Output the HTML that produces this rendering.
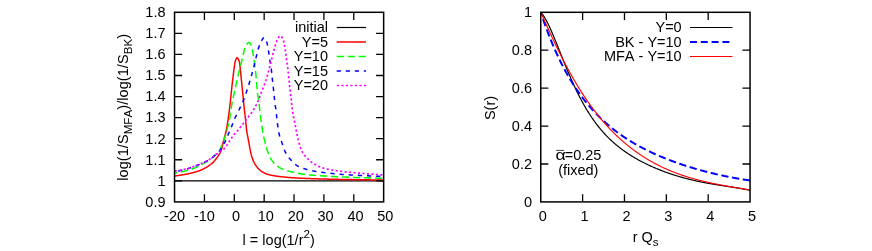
<!DOCTYPE html>
<html><head><meta charset="utf-8"><title>plots</title>
<style>html,body{margin:0;padding:0;background:#fff}svg{display:block;will-change:transform}text{font-family:"Liberation Sans",sans-serif;font-kerning:none;font-size:14.5px;fill:#000}</style></head><body>
<svg width="872" height="251" viewBox="0 0 872 251">
<rect width="872" height="251" fill="#fff"/>
<defs><clipPath id="c1"><rect x="174.55" y="12.3" width="209.1" height="189.6"/></clipPath><clipPath id="c2"><rect x="540.75" y="12.3" width="209.3" height="189.6"/></clipPath></defs>
<g fill="none" stroke-width="1.5" stroke-linejoin="round">
<path d="M174.55,180.833H383.65" stroke="#000" stroke-width="1.2"/>
<g clip-path="url(#c1)">
<path d="M174.50,176.00 L174.75,175.97 L175.00,175.94 L175.25,175.91 L175.50,175.89 L175.75,175.85 L176.00,175.82 L176.25,175.79 L176.50,175.76 L176.75,175.73 L177.00,175.69 L177.25,175.66 L177.50,175.63 L177.75,175.59 L178.00,175.56 L178.25,175.52 L178.50,175.48 L178.75,175.45 L179.00,175.41 L179.25,175.37 L179.50,175.33 L179.75,175.30 L180.00,175.26 L180.25,175.22 L180.50,175.18 L180.75,175.14 L181.00,175.09 L181.25,175.05 L181.50,175.01 L181.75,174.97 L182.00,174.93 L182.25,174.88 L182.50,174.84 L182.75,174.80 L183.00,174.75 L183.25,174.71 L183.50,174.66 L183.75,174.62 L184.00,174.57 L184.25,174.53 L184.50,174.48 L184.75,174.43 L185.00,174.39 L185.25,174.34 L185.50,174.29 L185.75,174.24 L186.00,174.19 L186.25,174.15 L186.50,174.10 L186.75,174.05 L187.00,174.00 L187.25,173.95 L187.50,173.90 L187.75,173.85 L188.00,173.80 L188.25,173.75 L188.50,173.69 L188.75,173.64 L189.00,173.59 L189.25,173.53 L189.50,173.48 L189.75,173.42 L190.00,173.36 L190.25,173.31 L190.50,173.25 L190.75,173.19 L191.00,173.13 L191.25,173.07 L191.50,173.01 L191.75,172.95 L192.00,172.89 L192.25,172.82 L192.50,172.76 L192.75,172.70 L193.00,172.63 L193.25,172.57 L193.50,172.50 L193.75,172.43 L194.00,172.37 L194.25,172.30 L194.50,172.23 L194.75,172.16 L195.00,172.09 L195.25,172.02 L195.50,171.95 L195.75,171.87 L196.00,171.80 L196.25,171.73 L196.50,171.65 L196.75,171.58 L197.00,171.50 L197.25,171.42 L197.50,171.34 L197.75,171.26 L198.00,171.18 L198.25,171.10 L198.50,171.01 L198.75,170.92 L199.00,170.83 L199.25,170.74 L199.50,170.65 L199.75,170.56 L200.00,170.46 L200.25,170.36 L200.50,170.26 L200.75,170.16 L201.00,170.06 L201.25,169.95 L201.50,169.84 L201.75,169.73 L202.00,169.62 L202.25,169.51 L202.50,169.39 L202.75,169.27 L203.00,169.15 L203.25,169.03 L203.50,168.90 L203.75,168.78 L204.00,168.65 L204.25,168.51 L204.50,168.38 L204.75,168.24 L205.00,168.11 L205.25,167.96 L205.50,167.82 L205.75,167.68 L206.00,167.53 L206.25,167.38 L206.50,167.24 L206.75,167.08 L207.00,166.93 L207.25,166.78 L207.50,166.62 L207.75,166.46 L208.00,166.30 L208.25,166.14 L208.50,165.97 L208.75,165.81 L209.00,165.64 L209.25,165.47 L209.50,165.29 L209.75,165.11 L210.00,164.93 L210.25,164.74 L210.50,164.56 L210.75,164.36 L211.00,164.17 L211.25,163.96 L211.50,163.76 L211.75,163.55 L212.00,163.33 L212.25,163.11 L212.50,162.88 L212.75,162.65 L213.00,162.41 L213.25,162.16 L213.50,161.90 L213.75,161.63 L214.00,161.36 L214.25,161.07 L214.50,160.78 L214.75,160.49 L215.00,160.18 L215.25,159.87 L215.50,159.56 L215.75,159.24 L216.00,158.92 L216.25,158.59 L216.50,158.26 L216.75,157.93 L217.00,157.60 L217.25,157.27 L217.50,156.93 L217.75,156.59 L218.00,156.24 L218.25,155.89 L218.50,155.52 L218.75,155.14 L219.00,154.75 L219.25,154.34 L219.50,153.92 L219.75,153.48 L220.00,153.01 L220.25,152.52 L220.50,152.00 L220.75,151.43 L221.00,150.82 L221.25,150.14 L221.50,149.38 L221.75,148.50 L222.00,147.52 L222.25,146.47 L222.50,145.37 L222.75,144.25 L223.00,143.13 L223.25,142.04 L223.50,141.00 L223.75,140.02 L224.00,139.07 L224.25,138.15 L224.50,137.23 L224.75,136.32 L225.00,135.40 L225.25,134.46 L225.50,133.48 L225.75,132.46 L226.00,131.38 L226.25,130.24 L226.50,129.01 L226.75,127.67 L227.00,126.25 L227.25,124.75 L227.50,123.20 L227.75,121.61 L228.00,120.00 L228.25,118.36 L228.50,116.67 L228.75,114.92 L229.00,113.09 L229.25,111.19 L229.50,109.18 L229.75,107.00 L230.00,104.70 L230.25,102.34 L230.50,100.00 L230.75,97.66 L231.00,95.27 L231.25,92.87 L231.50,90.47 L231.75,88.10 L232.00,85.79 L232.25,83.56 L232.50,81.38 L232.75,79.22 L233.00,77.11 L233.25,75.04 L233.50,73.04 L233.75,71.12 L234.00,69.25 L234.25,67.31 L234.50,65.40 L234.75,63.70 L235.00,62.38 L235.25,61.50 L235.50,60.71 L235.75,59.97 L236.00,59.30 L236.25,58.74 L236.50,58.29 L236.75,57.97 L237.00,57.81 L237.25,57.82 L237.50,57.95 L237.75,58.19 L238.00,58.53 L238.25,58.97 L238.50,59.49 L238.75,60.10 L239.00,60.78 L239.25,61.52 L239.50,62.41 L239.75,64.02 L240.00,66.20 L240.25,68.60 L240.50,70.93 L240.75,73.44 L241.00,76.00 L241.25,78.50 L241.50,81.00 L241.75,83.50 L242.00,86.00 L242.25,88.50 L242.50,91.00 L242.75,93.50 L243.00,96.00 L243.25,98.50 L243.50,101.01 L243.75,103.57 L244.00,106.13 L244.25,108.60 L244.50,110.89 L244.75,113.00 L245.00,115.00 L245.25,117.00 L245.50,119.11 L245.75,121.46 L246.00,124.13 L246.25,126.82 L246.50,129.21 L246.75,131.06 L247.00,132.65 L247.25,134.09 L247.50,135.40 L247.75,136.66 L248.00,137.90 L248.25,139.19 L248.50,140.56 L248.75,141.99 L249.00,143.44 L249.25,144.90 L249.50,146.33 L249.75,147.71 L250.00,149.02 L250.25,150.24 L250.50,151.41 L250.75,152.55 L251.00,153.65 L251.25,154.69 L251.50,155.66 L251.75,156.53 L252.00,157.30 L252.25,158.02 L252.50,158.71 L252.75,159.37 L253.00,160.01 L253.25,160.62 L253.50,161.20 L253.75,161.75 L254.00,162.27 L254.25,162.77 L254.50,163.25 L254.75,163.70 L255.00,164.12 L255.25,164.52 L255.50,164.90 L255.75,165.28 L256.00,165.64 L256.25,166.00 L256.50,166.34 L256.75,166.68 L257.00,167.01 L257.25,167.32 L257.50,167.63 L257.75,167.93 L258.00,168.22 L258.25,168.50 L258.50,168.77 L258.75,169.04 L259.00,169.29 L259.25,169.53 L259.50,169.77 L259.75,169.99 L260.00,170.21 L260.25,170.41 L260.50,170.61 L260.75,170.79 L261.00,170.97 L261.25,171.14 L261.50,171.31 L261.75,171.48 L262.00,171.64 L262.25,171.80 L262.50,171.96 L262.75,172.11 L263.00,172.26 L263.25,172.40 L263.50,172.55 L263.75,172.69 L264.00,172.82 L264.25,172.95 L264.50,173.08 L264.75,173.20 L265.00,173.32 L265.25,173.44 L265.50,173.55 L265.75,173.65 L266.00,173.76 L266.25,173.86 L266.50,173.95 L266.75,174.04 L267.00,174.13 L267.25,174.21 L267.50,174.29 L267.75,174.36 L268.00,174.43 L268.25,174.49 L268.50,174.56 L268.75,174.62 L269.00,174.69 L269.25,174.75 L269.50,174.81 L269.75,174.87 L270.00,174.93 L270.25,174.99 L270.50,175.05 L270.75,175.10 L271.00,175.16 L271.25,175.21 L271.50,175.26 L271.75,175.32 L272.00,175.37 L272.25,175.42 L272.50,175.47 L272.75,175.52 L273.00,175.56 L273.25,175.61 L273.50,175.66 L273.75,175.70 L274.00,175.75 L274.25,175.79 L274.50,175.83 L274.75,175.87 L275.00,175.92 L275.25,175.96 L275.50,176.00 L275.75,176.03 L276.00,176.07 L276.25,176.11 L276.50,176.15 L276.75,176.18 L277.00,176.22 L277.25,176.25 L277.50,176.29 L277.75,176.32 L278.00,176.36 L278.25,176.39 L278.50,176.42 L278.75,176.45 L279.00,176.48 L279.25,176.51 L279.50,176.54 L279.75,176.57 L280.00,176.60 L280.25,176.63 L280.50,176.66 L280.75,176.69 L281.00,176.71 L281.25,176.74 L281.50,176.77 L281.75,176.79 L282.00,176.82 L282.25,176.85 L282.50,176.87 L282.75,176.90 L283.00,176.92 L283.25,176.95 L283.50,176.97 L283.75,177.00 L284.00,177.02 L284.25,177.04 L284.50,177.07 L284.75,177.09 L285.00,177.11 L285.25,177.14 L285.50,177.16 L285.75,177.18 L286.00,177.21 L286.25,177.23 L286.50,177.25 L286.75,177.27 L287.00,177.29 L287.25,177.32 L287.50,177.34 L287.75,177.36 L288.00,177.38 L288.25,177.40 L288.50,177.42 L288.75,177.44 L289.00,177.46 L289.25,177.48 L289.50,177.50 L289.75,177.52 L290.00,177.54 L290.25,177.56 L290.50,177.58 L290.75,177.60 L291.00,177.61 L291.25,177.63 L291.50,177.65 L291.75,177.67 L292.00,177.69 L292.25,177.71 L292.50,177.72 L292.75,177.74 L293.00,177.76 L293.25,177.77 L293.50,177.79 L293.75,177.81 L294.00,177.82 L294.25,177.84 L294.50,177.86 L294.75,177.87 L295.00,177.89 L295.25,177.90 L295.50,177.92 L295.75,177.93 L296.00,177.95 L296.25,177.96 L296.50,177.98 L296.75,177.99 L297.00,178.01 L297.25,178.02 L297.50,178.04 L297.75,178.05 L298.00,178.06 L298.25,178.08 L298.50,178.09 L298.75,178.10 L299.00,178.12 L299.25,178.13 L299.50,178.14 L299.75,178.16 L300.00,178.17 L300.25,178.18 L300.50,178.19 L300.75,178.21 L301.00,178.22 L301.25,178.23 L301.50,178.24 L301.75,178.25 L302.00,178.26 L302.25,178.28 L302.50,178.29 L302.75,178.30 L303.00,178.31 L303.25,178.32 L303.50,178.33 L303.75,178.34 L304.00,178.35 L304.25,178.36 L304.50,178.37 L304.75,178.38 L305.00,178.39 L305.25,178.40 L305.50,178.41 L305.75,178.42 L306.00,178.43 L306.25,178.44 L306.50,178.45 L306.75,178.46 L307.00,178.47 L307.25,178.48 L307.50,178.49 L307.75,178.50 L308.00,178.51 L308.25,178.52 L308.50,178.53 L308.75,178.54 L309.00,178.55 L309.25,178.56 L309.50,178.57 L309.75,178.58 L310.00,178.59 L310.25,178.60 L310.50,178.61 L310.75,178.62 L311.00,178.63 L311.25,178.64 L311.50,178.65 L311.75,178.65 L312.00,178.66 L312.25,178.67 L312.50,178.68 L312.75,178.69 L313.00,178.70 L313.25,178.71 L313.50,178.72 L313.75,178.72 L314.00,178.73 L314.25,178.74 L314.50,178.75 L314.75,178.76 L315.00,178.77 L315.25,178.77 L315.50,178.78 L315.75,178.79 L316.00,178.80 L316.25,178.81 L316.50,178.82 L316.75,178.82 L317.00,178.83 L317.25,178.84 L317.50,178.85 L317.75,178.86 L318.00,178.86 L318.25,178.87 L318.50,178.88 L318.75,178.89 L319.00,178.89 L319.25,178.90 L319.50,178.91 L319.75,178.92 L320.00,178.92 L320.25,178.93 L320.50,178.94 L320.75,178.95 L321.00,178.95 L321.25,178.96 L321.50,178.97 L321.75,178.98 L322.00,178.98 L322.25,178.99 L322.50,179.00 L322.75,179.00 L323.00,179.01 L323.25,179.02 L323.50,179.02 L323.75,179.03 L324.00,179.04 L324.25,179.04 L324.50,179.05 L324.75,179.06 L325.00,179.06 L325.25,179.07 L325.50,179.08 L325.75,179.08 L326.00,179.09 L326.25,179.10 L326.50,179.10 L326.75,179.11 L327.00,179.12 L327.25,179.12 L327.50,179.13 L327.75,179.14 L328.00,179.14 L328.25,179.15 L328.50,179.15 L328.75,179.16 L329.00,179.17 L329.25,179.17 L329.50,179.18 L329.75,179.18 L330.00,179.19 L330.25,179.20 L330.50,179.20 L330.75,179.21 L331.00,179.21 L331.25,179.22 L331.50,179.22 L331.75,179.23 L332.00,179.24 L332.25,179.24 L332.50,179.25 L332.75,179.25 L333.00,179.26 L333.25,179.26 L333.50,179.27 L333.75,179.27 L334.00,179.28 L334.25,179.28 L334.50,179.29 L334.75,179.30 L335.00,179.30 L335.25,179.31 L335.50,179.31 L335.75,179.32 L336.00,179.32 L336.25,179.33 L336.50,179.33 L336.75,179.34 L337.00,179.34 L337.25,179.35 L337.50,179.35 L337.75,179.36 L338.00,179.36 L338.25,179.37 L338.50,179.37 L338.75,179.38 L339.00,179.38 L339.25,179.39 L339.50,179.39 L339.75,179.40 L340.00,179.40 L340.25,179.40 L340.50,179.41 L340.75,179.41 L341.00,179.42 L341.25,179.42 L341.50,179.43 L341.75,179.43 L342.00,179.44 L342.25,179.44 L342.50,179.45 L342.75,179.45 L343.00,179.46 L343.25,179.46 L343.50,179.47 L343.75,179.47 L344.00,179.47 L344.25,179.48 L344.50,179.48 L344.75,179.49 L345.00,179.49 L345.25,179.50 L345.50,179.50 L345.75,179.51 L346.00,179.51 L346.25,179.52 L346.50,179.52 L346.75,179.52 L347.00,179.53 L347.25,179.53 L347.50,179.54 L347.75,179.54 L348.00,179.55 L348.25,179.55 L348.50,179.56 L348.75,179.56 L349.00,179.56 L349.25,179.57 L349.50,179.57 L349.75,179.58 L350.00,179.58 L350.25,179.59 L350.50,179.59 L350.75,179.59 L351.00,179.60 L351.25,179.60 L351.50,179.61 L351.75,179.61 L352.00,179.62 L352.25,179.62 L352.50,179.62 L352.75,179.63 L353.00,179.63 L353.25,179.64 L353.50,179.64 L353.75,179.65 L354.00,179.65 L354.25,179.65 L354.50,179.66 L354.75,179.66 L355.00,179.67 L355.25,179.67 L355.50,179.67 L355.75,179.68 L356.00,179.68 L356.25,179.69 L356.50,179.69 L356.75,179.69 L357.00,179.70 L357.25,179.70 L357.50,179.71 L357.75,179.71 L358.00,179.71 L358.25,179.72 L358.50,179.72 L358.75,179.73 L359.00,179.73 L359.25,179.73 L359.50,179.74 L359.75,179.74 L360.00,179.74 L360.25,179.75 L360.50,179.75 L360.75,179.76 L361.00,179.76 L361.25,179.76 L361.50,179.77 L361.75,179.77 L362.00,179.77 L362.25,179.78 L362.50,179.78 L362.75,179.79 L363.00,179.79 L363.25,179.79 L363.50,179.80 L363.75,179.80 L364.00,179.80 L364.25,179.81 L364.50,179.81 L364.75,179.81 L365.00,179.82 L365.25,179.82 L365.50,179.82 L365.75,179.83 L366.00,179.83 L366.25,179.83 L366.50,179.84 L366.75,179.84 L367.00,179.84 L367.25,179.85 L367.50,179.85 L367.75,179.85 L368.00,179.85 L368.25,179.86 L368.50,179.86 L368.75,179.86 L369.00,179.87 L369.25,179.87 L369.50,179.87 L369.75,179.88 L370.00,179.88 L370.25,179.88 L370.50,179.88 L370.75,179.89 L371.00,179.89 L371.25,179.89 L371.50,179.90 L371.75,179.90 L372.00,179.90 L372.25,179.90 L372.50,179.91 L372.75,179.91 L373.00,179.91 L373.25,179.91 L373.50,179.92 L373.75,179.92 L374.00,179.92 L374.25,179.92 L374.50,179.93 L374.75,179.93 L375.00,179.93 L375.25,179.93 L375.50,179.94 L375.75,179.94 L376.00,179.94 L376.25,179.94 L376.50,179.95 L376.75,179.95 L377.00,179.95 L377.25,179.95 L377.50,179.95 L377.75,179.96 L378.00,179.96 L378.25,179.96 L378.50,179.96 L378.75,179.96 L379.00,179.97 L379.25,179.97 L379.50,179.97 L379.75,179.97 L380.00,179.97 L380.25,179.98 L380.50,179.98 L380.75,179.98 L381.00,179.98 L381.25,179.98 L381.50,179.98 L381.75,179.98 L382.00,179.99 L382.25,179.99 L382.50,179.99 L382.75,179.99 L383.00,179.99 L383.25,179.99 L383.50,180.00 L383.75,180.00 L384.00,180.00 L384.25,180.00 L384.50,180.00" stroke="#f00"/>
<path d="M174.50,173.00 L174.75,172.97 L175.00,172.94 L175.25,172.91 L175.50,172.87 L175.75,172.84 L176.00,172.81 L176.25,172.77 L176.50,172.73 L176.75,172.70 L177.00,172.66 L177.25,172.62 L177.50,172.58 L177.75,172.53 L178.00,172.49 L178.25,172.45 L178.50,172.40 L178.75,172.36 L179.00,172.31 L179.25,172.27 L179.50,172.22 L179.75,172.17 L180.00,172.12 L180.25,172.07 L180.50,172.02 L180.75,171.97 L181.00,171.92 L181.25,171.86 L181.50,171.81 L181.75,171.76 L182.00,171.70 L182.25,171.65 L182.50,171.59 L182.75,171.54 L183.00,171.48 L183.25,171.42 L183.50,171.36 L183.75,171.30 L184.00,171.24 L184.25,171.18 L184.50,171.12 L184.75,171.06 L185.00,171.00 L185.25,170.94 L185.50,170.88 L185.75,170.82 L186.00,170.75 L186.25,170.69 L186.50,170.63 L186.75,170.56 L187.00,170.50 L187.25,170.44 L187.50,170.37 L187.75,170.30 L188.00,170.23 L188.25,170.16 L188.50,170.09 L188.75,170.02 L189.00,169.95 L189.25,169.87 L189.50,169.80 L189.75,169.72 L190.00,169.64 L190.25,169.56 L190.50,169.48 L190.75,169.40 L191.00,169.32 L191.25,169.24 L191.50,169.15 L191.75,169.06 L192.00,168.98 L192.25,168.89 L192.50,168.80 L192.75,168.71 L193.00,168.62 L193.25,168.53 L193.50,168.43 L193.75,168.34 L194.00,168.24 L194.25,168.14 L194.50,168.04 L194.75,167.94 L195.00,167.84 L195.25,167.74 L195.50,167.64 L195.75,167.54 L196.00,167.43 L196.25,167.32 L196.50,167.22 L196.75,167.11 L197.00,167.00 L197.25,166.89 L197.50,166.77 L197.75,166.65 L198.00,166.52 L198.25,166.39 L198.50,166.26 L198.75,166.12 L199.00,165.98 L199.25,165.84 L199.50,165.70 L199.75,165.55 L200.00,165.41 L200.25,165.26 L200.50,165.11 L200.75,164.96 L201.00,164.81 L201.25,164.67 L201.50,164.52 L201.75,164.37 L202.00,164.23 L202.25,164.08 L202.50,163.94 L202.75,163.80 L203.00,163.66 L203.25,163.53 L203.50,163.39 L203.75,163.25 L204.00,163.11 L204.25,162.98 L204.50,162.84 L204.75,162.70 L205.00,162.57 L205.25,162.43 L205.50,162.29 L205.75,162.15 L206.00,162.00 L206.25,161.86 L206.50,161.72 L206.75,161.57 L207.00,161.42 L207.25,161.27 L207.50,161.11 L207.75,160.96 L208.00,160.80 L208.25,160.64 L208.50,160.48 L208.75,160.31 L209.00,160.14 L209.25,159.98 L209.50,159.81 L209.75,159.63 L210.00,159.46 L210.25,159.28 L210.50,159.10 L210.75,158.92 L211.00,158.73 L211.25,158.54 L211.50,158.35 L211.75,158.16 L212.00,157.96 L212.25,157.77 L212.50,157.56 L212.75,157.36 L213.00,157.15 L213.25,156.94 L213.50,156.72 L213.75,156.50 L214.00,156.27 L214.25,156.04 L214.50,155.81 L214.75,155.57 L215.00,155.33 L215.25,155.08 L215.50,154.84 L215.75,154.58 L216.00,154.33 L216.25,154.07 L216.50,153.81 L216.75,153.55 L217.00,153.29 L217.25,153.03 L217.50,152.77 L217.75,152.50 L218.00,152.23 L218.25,151.95 L218.50,151.66 L218.75,151.35 L219.00,151.02 L219.25,150.67 L219.50,150.30 L219.75,149.88 L220.00,149.41 L220.25,148.88 L220.50,148.33 L220.75,147.75 L221.00,147.16 L221.25,146.58 L221.50,146.00 L221.75,145.44 L222.00,144.87 L222.25,144.31 L222.50,143.74 L222.75,143.16 L223.00,142.57 L223.25,141.96 L223.50,141.33 L223.75,140.68 L224.00,140.00 L224.25,139.29 L224.50,138.55 L224.75,137.79 L225.00,137.00 L225.25,136.19 L225.50,135.35 L225.75,134.50 L226.00,133.63 L226.25,132.74 L226.50,131.84 L226.75,130.92 L227.00,130.00 L227.25,129.07 L227.50,128.13 L227.75,127.18 L228.00,126.20 L228.25,125.20 L228.50,124.16 L228.75,123.08 L229.00,121.94 L229.25,120.75 L229.50,119.48 L229.75,118.07 L230.00,116.53 L230.25,114.91 L230.50,113.25 L230.75,111.60 L231.00,110.00 L231.25,108.40 L231.50,106.75 L231.75,105.09 L232.00,103.47 L232.25,101.93 L232.50,100.52 L232.75,99.27 L233.00,98.13 L233.25,97.08 L233.50,96.07 L233.75,95.06 L234.00,94.00 L234.25,92.90 L234.50,91.78 L234.75,90.65 L235.00,89.52 L235.25,88.37 L235.50,87.22 L235.75,86.07 L236.00,84.92 L236.25,83.77 L236.50,82.62 L236.75,81.49 L237.00,80.36 L237.25,79.24 L237.50,78.15 L237.75,77.06 L238.00,76.00 L238.25,74.96 L238.50,73.94 L238.75,72.94 L239.00,71.95 L239.25,70.96 L239.50,69.98 L239.75,68.99 L240.00,68.00 L240.25,67.00 L240.50,66.00 L240.75,65.00 L241.00,64.00 L241.25,63.00 L241.50,62.00 L241.75,61.00 L242.00,60.00 L242.25,58.96 L242.50,57.87 L242.75,56.74 L243.00,55.58 L243.25,54.43 L243.50,53.30 L243.75,52.20 L244.00,51.17 L244.25,50.21 L244.50,49.35 L244.75,48.61 L245.00,48.00 L245.25,47.47 L245.50,46.95 L245.75,46.43 L246.00,45.93 L246.25,45.45 L246.50,44.98 L246.75,44.55 L247.00,44.14 L247.25,43.76 L247.50,43.43 L247.75,43.13 L248.00,42.88 L248.25,42.67 L248.50,42.52 L248.75,42.43 L249.00,42.40 L249.25,42.45 L249.50,42.61 L249.75,42.86 L250.00,43.20 L250.25,43.61 L250.50,44.09 L250.75,44.64 L251.00,45.24 L251.25,45.88 L251.50,46.56 L251.75,47.27 L252.00,48.00 L252.25,48.90 L252.50,50.09 L252.75,51.51 L253.00,53.10 L253.25,54.80 L253.50,56.56 L253.75,58.31 L254.00,60.00 L254.25,61.64 L254.50,63.29 L254.75,65.00 L255.00,66.81 L255.25,68.76 L255.50,70.89 L255.75,73.37 L256.00,76.00 L256.25,78.80 L256.50,81.83 L256.75,84.95 L257.00,87.99 L257.25,90.79 L257.50,93.19 L257.75,95.06 L258.00,96.54 L258.25,97.88 L258.50,99.33 L258.75,101.10 L259.00,103.15 L259.25,105.37 L259.50,107.65 L259.75,109.89 L260.00,112.00 L260.25,113.98 L260.50,115.91 L260.75,117.81 L261.00,119.66 L261.25,121.49 L261.50,123.29 L261.75,125.08 L262.00,126.91 L262.25,128.74 L262.50,130.52 L262.75,132.20 L263.00,133.73 L263.25,135.05 L263.50,136.18 L263.75,137.18 L264.00,138.11 L264.25,139.03 L264.50,139.99 L264.75,141.04 L265.00,142.18 L265.25,143.34 L265.50,144.48 L265.75,145.55 L266.00,146.50 L266.25,147.32 L266.50,148.06 L266.75,148.75 L267.00,149.44 L267.25,150.15 L267.50,150.89 L267.75,151.67 L268.00,152.45 L268.25,153.22 L268.50,153.97 L268.75,154.67 L269.00,155.32 L269.25,155.90 L269.50,156.40 L269.75,156.89 L270.00,157.36 L270.25,157.81 L270.50,158.24 L270.75,158.65 L271.00,159.05 L271.25,159.44 L271.50,159.81 L271.75,160.17 L272.00,160.51 L272.25,160.85 L272.50,161.17 L272.75,161.49 L273.00,161.80 L273.25,162.10 L273.50,162.40 L273.75,162.69 L274.00,162.97 L274.25,163.25 L274.50,163.51 L274.75,163.77 L275.00,164.02 L275.25,164.27 L275.50,164.50 L275.75,164.74 L276.00,164.96 L276.25,165.18 L276.50,165.39 L276.75,165.60 L277.00,165.80 L277.25,166.00 L277.50,166.19 L277.75,166.38 L278.00,166.57 L278.25,166.75 L278.50,166.92 L278.75,167.09 L279.00,167.26 L279.25,167.42 L279.50,167.58 L279.75,167.73 L280.00,167.88 L280.25,168.02 L280.50,168.15 L280.75,168.28 L281.00,168.41 L281.25,168.54 L281.50,168.66 L281.75,168.78 L282.00,168.89 L282.25,169.00 L282.50,169.11 L282.75,169.22 L283.00,169.32 L283.25,169.43 L283.50,169.52 L283.75,169.62 L284.00,169.72 L284.25,169.81 L284.50,169.90 L284.75,169.99 L285.00,170.08 L285.25,170.16 L285.50,170.24 L285.75,170.32 L286.00,170.40 L286.25,170.48 L286.50,170.56 L286.75,170.63 L287.00,170.70 L287.25,170.78 L287.50,170.85 L287.75,170.92 L288.00,170.99 L288.25,171.05 L288.50,171.12 L288.75,171.19 L289.00,171.25 L289.25,171.32 L289.50,171.38 L289.75,171.44 L290.00,171.50 L290.25,171.56 L290.50,171.62 L290.75,171.68 L291.00,171.74 L291.25,171.79 L291.50,171.85 L291.75,171.90 L292.00,171.96 L292.25,172.01 L292.50,172.07 L292.75,172.12 L293.00,172.18 L293.25,172.23 L293.50,172.29 L293.75,172.34 L294.00,172.40 L294.25,172.46 L294.50,172.51 L294.75,172.57 L295.00,172.63 L295.25,172.69 L295.50,172.75 L295.75,172.81 L296.00,172.87 L296.25,172.93 L296.50,172.98 L296.75,173.04 L297.00,173.10 L297.25,173.16 L297.50,173.21 L297.75,173.27 L298.00,173.32 L298.25,173.38 L298.50,173.43 L298.75,173.48 L299.00,173.53 L299.25,173.57 L299.50,173.62 L299.75,173.66 L300.00,173.70 L300.25,173.74 L300.50,173.78 L300.75,173.82 L301.00,173.85 L301.25,173.89 L301.50,173.93 L301.75,173.96 L302.00,174.00 L302.25,174.03 L302.50,174.07 L302.75,174.10 L303.00,174.14 L303.25,174.17 L303.50,174.21 L303.75,174.24 L304.00,174.27 L304.25,174.30 L304.50,174.34 L304.75,174.37 L305.00,174.40 L305.25,174.43 L305.50,174.46 L305.75,174.49 L306.00,174.52 L306.25,174.55 L306.50,174.58 L306.75,174.61 L307.00,174.63 L307.25,174.66 L307.50,174.69 L307.75,174.72 L308.00,174.74 L308.25,174.77 L308.50,174.80 L308.75,174.82 L309.00,174.85 L309.25,174.87 L309.50,174.90 L309.75,174.92 L310.00,174.95 L310.25,174.97 L310.50,175.00 L310.75,175.02 L311.00,175.05 L311.25,175.07 L311.50,175.09 L311.75,175.11 L312.00,175.14 L312.25,175.16 L312.50,175.18 L312.75,175.20 L313.00,175.22 L313.25,175.25 L313.50,175.27 L313.75,175.29 L314.00,175.31 L314.25,175.33 L314.50,175.35 L314.75,175.37 L315.00,175.39 L315.25,175.41 L315.50,175.43 L315.75,175.45 L316.00,175.46 L316.25,175.48 L316.50,175.50 L316.75,175.52 L317.00,175.54 L317.25,175.56 L317.50,175.57 L317.75,175.59 L318.00,175.61 L318.25,175.62 L318.50,175.64 L318.75,175.66 L319.00,175.67 L319.25,175.69 L319.50,175.71 L319.75,175.72 L320.00,175.74 L320.25,175.76 L320.50,175.77 L320.75,175.79 L321.00,175.80 L321.25,175.82 L321.50,175.83 L321.75,175.85 L322.00,175.86 L322.25,175.88 L322.50,175.89 L322.75,175.91 L323.00,175.92 L323.25,175.94 L323.50,175.95 L323.75,175.97 L324.00,175.98 L324.25,175.99 L324.50,176.01 L324.75,176.02 L325.00,176.04 L325.25,176.05 L325.50,176.06 L325.75,176.08 L326.00,176.09 L326.25,176.11 L326.50,176.12 L326.75,176.14 L327.00,176.15 L327.25,176.16 L327.50,176.18 L327.75,176.19 L328.00,176.21 L328.25,176.22 L328.50,176.23 L328.75,176.25 L329.00,176.26 L329.25,176.28 L329.50,176.29 L329.75,176.30 L330.00,176.32 L330.25,176.33 L330.50,176.34 L330.75,176.36 L331.00,176.37 L331.25,176.38 L331.50,176.40 L331.75,176.41 L332.00,176.42 L332.25,176.44 L332.50,176.45 L332.75,176.46 L333.00,176.47 L333.25,176.49 L333.50,176.50 L333.75,176.51 L334.00,176.53 L334.25,176.54 L334.50,176.55 L334.75,176.56 L335.00,176.58 L335.25,176.59 L335.50,176.60 L335.75,176.61 L336.00,176.62 L336.25,176.64 L336.50,176.65 L336.75,176.66 L337.00,176.67 L337.25,176.69 L337.50,176.70 L337.75,176.71 L338.00,176.72 L338.25,176.73 L338.50,176.75 L338.75,176.76 L339.00,176.77 L339.25,176.78 L339.50,176.79 L339.75,176.80 L340.00,176.82 L340.25,176.83 L340.50,176.84 L340.75,176.85 L341.00,176.86 L341.25,176.87 L341.50,176.89 L341.75,176.90 L342.00,176.91 L342.25,176.92 L342.50,176.93 L342.75,176.94 L343.00,176.96 L343.25,176.97 L343.50,176.98 L343.75,176.99 L344.00,177.00 L344.25,177.01 L344.50,177.03 L344.75,177.04 L345.00,177.05 L345.25,177.06 L345.50,177.07 L345.75,177.08 L346.00,177.09 L346.25,177.11 L346.50,177.12 L346.75,177.13 L347.00,177.14 L347.25,177.15 L347.50,177.16 L347.75,177.17 L348.00,177.19 L348.25,177.20 L348.50,177.21 L348.75,177.22 L349.00,177.23 L349.25,177.24 L349.50,177.25 L349.75,177.26 L350.00,177.27 L350.25,177.28 L350.50,177.29 L350.75,177.30 L351.00,177.32 L351.25,177.33 L351.50,177.34 L351.75,177.35 L352.00,177.36 L352.25,177.37 L352.50,177.38 L352.75,177.39 L353.00,177.40 L353.25,177.41 L353.50,177.42 L353.75,177.43 L354.00,177.44 L354.25,177.44 L354.50,177.45 L354.75,177.46 L355.00,177.47 L355.25,177.48 L355.50,177.49 L355.75,177.50 L356.00,177.51 L356.25,177.52 L356.50,177.52 L356.75,177.53 L357.00,177.54 L357.25,177.55 L357.50,177.56 L357.75,177.56 L358.00,177.57 L358.25,177.58 L358.50,177.59 L358.75,177.59 L359.00,177.60 L359.25,177.61 L359.50,177.62 L359.75,177.62 L360.00,177.63 L360.25,177.64 L360.50,177.64 L360.75,177.65 L361.00,177.66 L361.25,177.67 L361.50,177.67 L361.75,177.68 L362.00,177.69 L362.25,177.69 L362.50,177.70 L362.75,177.71 L363.00,177.71 L363.25,177.72 L363.50,177.73 L363.75,177.73 L364.00,177.74 L364.25,177.75 L364.50,177.75 L364.75,177.76 L365.00,177.77 L365.25,177.77 L365.50,177.78 L365.75,177.79 L366.00,177.79 L366.25,177.80 L366.50,177.81 L366.75,177.81 L367.00,177.82 L367.25,177.83 L367.50,177.83 L367.75,177.84 L368.00,177.85 L368.25,177.86 L368.50,177.86 L368.75,177.87 L369.00,177.88 L369.25,177.89 L369.50,177.89 L369.75,177.90 L370.00,177.91 L370.25,177.92 L370.50,177.92 L370.75,177.93 L371.00,177.94 L371.25,177.95 L371.50,177.96 L371.75,177.96 L372.00,177.97 L372.25,177.98 L372.50,177.99 L372.75,178.00 L373.00,178.00 L373.25,178.01 L373.50,178.02 L373.75,178.03 L374.00,178.04 L374.25,178.05 L374.50,178.05 L374.75,178.06 L375.00,178.07 L375.25,178.08 L375.50,178.09 L375.75,178.09 L376.00,178.10 L376.25,178.11 L376.50,178.12 L376.75,178.13 L377.00,178.14 L377.25,178.15 L377.50,178.15 L377.75,178.16 L378.00,178.17 L378.25,178.18 L378.50,178.19 L378.75,178.20 L379.00,178.21 L379.25,178.21 L379.50,178.22 L379.75,178.23 L380.00,178.24 L380.25,178.25 L380.50,178.26 L380.75,178.27 L381.00,178.27 L381.25,178.28 L381.50,178.29 L381.75,178.30 L382.00,178.31 L382.25,178.32 L382.50,178.33 L382.75,178.34 L383.00,178.35 L383.25,178.35 L383.50,178.36 L383.75,178.37 L384.00,178.38 L384.25,178.39 L384.50,178.40" stroke="#0f0" stroke-dasharray="7.3 3.74" stroke-dashoffset="4.49"/>
<path d="M174.50,171.70 L174.75,171.67 L175.00,171.63 L175.25,171.59 L175.50,171.56 L175.75,171.52 L176.00,171.48 L176.25,171.44 L176.50,171.39 L176.75,171.35 L177.00,171.31 L177.25,171.26 L177.50,171.22 L177.75,171.17 L178.00,171.13 L178.25,171.08 L178.50,171.03 L178.75,170.98 L179.00,170.93 L179.25,170.88 L179.50,170.83 L179.75,170.78 L180.00,170.72 L180.25,170.67 L180.50,170.62 L180.75,170.56 L181.00,170.51 L181.25,170.45 L181.50,170.39 L181.75,170.33 L182.00,170.28 L182.25,170.22 L182.50,170.16 L182.75,170.10 L183.00,170.04 L183.25,169.98 L183.50,169.91 L183.75,169.85 L184.00,169.79 L184.25,169.72 L184.50,169.66 L184.75,169.60 L185.00,169.53 L185.25,169.47 L185.50,169.40 L185.75,169.34 L186.00,169.27 L186.25,169.20 L186.50,169.14 L186.75,169.07 L187.00,169.00 L187.25,168.93 L187.50,168.86 L187.75,168.79 L188.00,168.71 L188.25,168.64 L188.50,168.56 L188.75,168.48 L189.00,168.41 L189.25,168.32 L189.50,168.24 L189.75,168.16 L190.00,168.07 L190.25,167.99 L190.50,167.90 L190.75,167.81 L191.00,167.73 L191.25,167.64 L191.50,167.54 L191.75,167.45 L192.00,167.36 L192.25,167.27 L192.50,167.17 L192.75,167.08 L193.00,166.98 L193.25,166.89 L193.50,166.79 L193.75,166.70 L194.00,166.60 L194.25,166.50 L194.50,166.40 L194.75,166.31 L195.00,166.21 L195.25,166.11 L195.50,166.01 L195.75,165.91 L196.00,165.81 L196.25,165.72 L196.50,165.62 L196.75,165.52 L197.00,165.42 L197.25,165.32 L197.50,165.22 L197.75,165.12 L198.00,165.02 L198.25,164.91 L198.50,164.81 L198.75,164.71 L199.00,164.60 L199.25,164.49 L199.50,164.39 L199.75,164.28 L200.00,164.17 L200.25,164.06 L200.50,163.95 L200.75,163.84 L201.00,163.73 L201.25,163.62 L201.50,163.51 L201.75,163.39 L202.00,163.28 L202.25,163.17 L202.50,163.05 L202.75,162.94 L203.00,162.83 L203.25,162.72 L203.50,162.60 L203.75,162.49 L204.00,162.38 L204.25,162.27 L204.50,162.15 L204.75,162.04 L205.00,161.92 L205.25,161.81 L205.50,161.69 L205.75,161.57 L206.00,161.45 L206.25,161.32 L206.50,161.20 L206.75,161.07 L207.00,160.94 L207.25,160.81 L207.50,160.68 L207.75,160.54 L208.00,160.40 L208.25,160.26 L208.50,160.11 L208.75,159.96 L209.00,159.81 L209.25,159.65 L209.50,159.49 L209.75,159.33 L210.00,159.16 L210.25,158.99 L210.50,158.82 L210.75,158.65 L211.00,158.47 L211.25,158.29 L211.50,158.11 L211.75,157.92 L212.00,157.74 L212.25,157.55 L212.50,157.35 L212.75,157.16 L213.00,156.96 L213.25,156.76 L213.50,156.55 L213.75,156.33 L214.00,156.11 L214.25,155.89 L214.50,155.66 L214.75,155.43 L215.00,155.20 L215.25,154.97 L215.50,154.73 L215.75,154.49 L216.00,154.26 L216.25,154.02 L216.50,153.79 L216.75,153.55 L217.00,153.32 L217.25,153.10 L217.50,152.88 L217.75,152.66 L218.00,152.44 L218.25,152.22 L218.50,151.99 L218.75,151.76 L219.00,151.51 L219.25,151.25 L219.50,150.97 L219.75,150.68 L220.00,150.37 L220.25,150.02 L220.50,149.63 L220.75,149.21 L221.00,148.78 L221.25,148.33 L221.50,147.88 L221.75,147.43 L222.00,147.00 L222.25,146.58 L222.50,146.17 L222.75,145.77 L223.00,145.36 L223.25,144.95 L223.50,144.54 L223.75,144.12 L224.00,143.69 L224.25,143.24 L224.50,142.78 L224.75,142.30 L225.00,141.80 L225.25,141.28 L225.50,140.74 L225.75,140.19 L226.00,139.62 L226.25,139.04 L226.50,138.45 L226.75,137.85 L227.00,137.25 L227.25,136.64 L227.50,136.04 L227.75,135.44 L228.00,134.84 L228.25,134.24 L228.50,133.66 L228.75,133.09 L229.00,132.52 L229.25,131.96 L229.50,131.40 L229.75,130.85 L230.00,130.29 L230.25,129.73 L230.50,129.16 L230.75,128.59 L231.00,128.00 L231.25,127.40 L231.50,126.79 L231.75,126.16 L232.00,125.52 L232.25,124.88 L232.50,124.23 L232.75,123.58 L233.00,122.93 L233.25,122.28 L233.50,121.64 L233.75,121.00 L234.00,120.37 L234.25,119.75 L234.50,119.15 L234.75,118.57 L235.00,118.00 L235.25,117.45 L235.50,116.92 L235.75,116.40 L236.00,115.89 L236.25,115.39 L236.50,114.90 L236.75,114.41 L237.00,113.93 L237.25,113.45 L237.50,112.97 L237.75,112.49 L238.00,112.00 L238.25,111.51 L238.50,111.02 L238.75,110.51 L239.00,110.00 L239.25,109.48 L239.50,108.97 L239.75,108.45 L240.00,107.94 L240.25,107.42 L240.50,106.91 L240.75,106.39 L241.00,105.87 L241.25,105.35 L241.50,104.81 L241.75,104.28 L242.00,103.73 L242.25,103.18 L242.50,102.62 L242.75,102.04 L243.00,101.46 L243.25,100.86 L243.50,100.25 L243.75,99.62 L244.00,98.98 L244.25,98.33 L244.50,97.66 L244.75,96.97 L245.00,96.28 L245.25,95.57 L245.50,94.85 L245.75,94.13 L246.00,93.39 L246.25,92.64 L246.50,91.88 L246.75,91.12 L247.00,90.35 L247.25,89.57 L247.50,88.79 L247.75,88.00 L248.00,87.21 L248.25,86.41 L248.50,85.61 L248.75,84.80 L249.00,84.00 L249.25,83.19 L249.50,82.37 L249.75,81.54 L250.00,80.71 L250.25,79.86 L250.50,79.00 L250.75,78.14 L251.00,77.27 L251.25,76.39 L251.50,75.50 L251.75,74.60 L252.00,73.70 L252.25,72.79 L252.50,71.87 L252.75,70.94 L253.00,70.00 L253.25,69.05 L253.50,68.07 L253.75,67.07 L254.00,66.06 L254.25,65.04 L254.50,64.02 L254.75,63.01 L255.00,62.00 L255.25,60.99 L255.50,59.95 L255.75,58.90 L256.00,57.85 L256.25,56.79 L256.50,55.74 L256.75,54.71 L257.00,53.70 L257.25,52.71 L257.50,51.76 L257.75,50.86 L258.00,50.00 L258.25,49.17 L258.50,48.33 L258.75,47.50 L259.00,46.68 L259.25,45.88 L259.50,45.11 L259.75,44.38 L260.00,43.69 L260.25,43.04 L260.50,42.46 L260.75,41.94 L261.00,41.50 L261.25,41.09 L261.50,40.69 L261.75,40.29 L262.00,39.90 L262.25,39.53 L262.50,39.17 L262.75,38.84 L263.00,38.54 L263.25,38.27 L263.50,38.04 L263.75,37.86 L264.00,37.72 L264.25,37.63 L264.50,37.60 L264.75,37.68 L265.00,37.91 L265.25,38.27 L265.50,38.73 L265.75,39.28 L266.00,39.89 L266.25,40.55 L266.50,41.23 L266.75,41.96 L267.00,42.91 L267.25,44.04 L267.50,45.31 L267.75,46.65 L268.00,48.00 L268.25,49.41 L268.50,50.93 L268.75,52.55 L269.00,54.23 L269.25,55.94 L269.50,57.65 L269.75,59.35 L270.00,61.00 L270.25,62.55 L270.50,64.03 L270.75,65.52 L271.00,67.10 L271.25,68.84 L271.50,70.87 L271.75,73.42 L272.00,76.00 L272.25,78.34 L272.50,80.61 L272.75,82.82 L273.00,85.01 L273.25,87.19 L273.50,89.40 L273.75,91.66 L274.00,94.00 L274.25,96.55 L274.50,99.25 L274.75,101.83 L275.00,104.00 L275.25,105.64 L275.50,107.00 L275.75,108.36 L276.00,110.00 L276.25,112.25 L276.50,114.95 L276.75,117.68 L277.00,120.00 L277.25,121.95 L277.50,123.83 L277.75,125.65 L278.00,127.38 L278.25,129.03 L278.50,130.57 L278.75,132.02 L279.00,133.34 L279.25,134.54 L279.50,135.61 L279.75,136.54 L280.00,137.33 L280.25,138.02 L280.50,138.67 L280.75,139.31 L281.00,140.00 L281.25,140.74 L281.50,141.49 L281.75,142.27 L282.00,143.05 L282.25,143.84 L282.50,144.62 L282.75,145.41 L283.00,146.17 L283.25,146.93 L283.50,147.65 L283.75,148.35 L284.00,149.02 L284.25,149.65 L284.50,150.23 L284.75,150.79 L285.00,151.33 L285.25,151.85 L285.50,152.35 L285.75,152.83 L286.00,153.30 L286.25,153.75 L286.50,154.18 L286.75,154.60 L287.00,155.00 L287.25,155.39 L287.50,155.77 L287.75,156.13 L288.00,156.48 L288.25,156.83 L288.50,157.16 L288.75,157.49 L289.00,157.80 L289.25,158.11 L289.50,158.41 L289.75,158.71 L290.00,159.00 L290.25,159.28 L290.50,159.56 L290.75,159.83 L291.00,160.10 L291.25,160.36 L291.50,160.61 L291.75,160.87 L292.00,161.11 L292.25,161.36 L292.50,161.60 L292.75,161.83 L293.00,162.07 L293.25,162.30 L293.50,162.54 L293.75,162.77 L294.00,163.00 L294.25,163.23 L294.50,163.47 L294.75,163.71 L295.00,163.95 L295.25,164.19 L295.50,164.42 L295.75,164.65 L296.00,164.86 L296.25,165.07 L296.50,165.26 L296.75,165.44 L297.00,165.60 L297.25,165.75 L297.50,165.89 L297.75,166.02 L298.00,166.14 L298.25,166.26 L298.50,166.37 L298.75,166.48 L299.00,166.59 L299.25,166.69 L299.50,166.80 L299.75,166.90 L300.00,167.00 L300.25,167.10 L300.50,167.20 L300.75,167.31 L301.00,167.41 L301.25,167.51 L301.50,167.61 L301.75,167.71 L302.00,167.80 L302.25,167.90 L302.50,168.00 L302.75,168.09 L303.00,168.19 L303.25,168.28 L303.50,168.37 L303.75,168.46 L304.00,168.55 L304.25,168.64 L304.50,168.73 L304.75,168.81 L305.00,168.89 L305.25,168.98 L305.50,169.06 L305.75,169.13 L306.00,169.21 L306.25,169.29 L306.50,169.36 L306.75,169.43 L307.00,169.50 L307.25,169.57 L307.50,169.64 L307.75,169.70 L308.00,169.77 L308.25,169.83 L308.50,169.90 L308.75,169.96 L309.00,170.02 L309.25,170.09 L309.50,170.15 L309.75,170.21 L310.00,170.27 L310.25,170.33 L310.50,170.38 L310.75,170.44 L311.00,170.50 L311.25,170.56 L311.50,170.61 L311.75,170.67 L312.00,170.72 L312.25,170.77 L312.50,170.83 L312.75,170.88 L313.00,170.93 L313.25,170.98 L313.50,171.03 L313.75,171.08 L314.00,171.13 L314.25,171.17 L314.50,171.22 L314.75,171.27 L315.00,171.31 L315.25,171.36 L315.50,171.40 L315.75,171.44 L316.00,171.49 L316.25,171.53 L316.50,171.57 L316.75,171.61 L317.00,171.65 L317.25,171.69 L317.50,171.72 L317.75,171.76 L318.00,171.80 L318.25,171.84 L318.50,171.87 L318.75,171.91 L319.00,171.94 L319.25,171.98 L319.50,172.01 L319.75,172.04 L320.00,172.08 L320.25,172.11 L320.50,172.14 L320.75,172.18 L321.00,172.21 L321.25,172.24 L321.50,172.27 L321.75,172.30 L322.00,172.33 L322.25,172.36 L322.50,172.39 L322.75,172.42 L323.00,172.45 L323.25,172.48 L323.50,172.51 L323.75,172.54 L324.00,172.56 L324.25,172.59 L324.50,172.62 L324.75,172.65 L325.00,172.68 L325.25,172.71 L325.50,172.73 L325.75,172.76 L326.00,172.79 L326.25,172.82 L326.50,172.84 L326.75,172.87 L327.00,172.90 L327.25,172.93 L327.50,172.96 L327.75,172.98 L328.00,173.01 L328.25,173.04 L328.50,173.07 L328.75,173.10 L329.00,173.12 L329.25,173.15 L329.50,173.18 L329.75,173.21 L330.00,173.24 L330.25,173.26 L330.50,173.29 L330.75,173.32 L331.00,173.35 L331.25,173.38 L331.50,173.40 L331.75,173.43 L332.00,173.46 L332.25,173.49 L332.50,173.51 L332.75,173.54 L333.00,173.57 L333.25,173.60 L333.50,173.62 L333.75,173.65 L334.00,173.68 L334.25,173.70 L334.50,173.73 L334.75,173.76 L335.00,173.78 L335.25,173.81 L335.50,173.84 L335.75,173.86 L336.00,173.89 L336.25,173.91 L336.50,173.94 L336.75,173.96 L337.00,173.99 L337.25,174.01 L337.50,174.03 L337.75,174.06 L338.00,174.08 L338.25,174.10 L338.50,174.13 L338.75,174.15 L339.00,174.17 L339.25,174.19 L339.50,174.22 L339.75,174.24 L340.00,174.26 L340.25,174.28 L340.50,174.30 L340.75,174.32 L341.00,174.34 L341.25,174.36 L341.50,174.38 L341.75,174.40 L342.00,174.41 L342.25,174.43 L342.50,174.45 L342.75,174.47 L343.00,174.48 L343.25,174.50 L343.50,174.52 L343.75,174.54 L344.00,174.55 L344.25,174.57 L344.50,174.58 L344.75,174.60 L345.00,174.61 L345.25,174.63 L345.50,174.65 L345.75,174.66 L346.00,174.68 L346.25,174.69 L346.50,174.71 L346.75,174.72 L347.00,174.73 L347.25,174.75 L347.50,174.76 L347.75,174.78 L348.00,174.79 L348.25,174.80 L348.50,174.82 L348.75,174.83 L349.00,174.84 L349.25,174.86 L349.50,174.87 L349.75,174.88 L350.00,174.90 L350.25,174.91 L350.50,174.92 L350.75,174.94 L351.00,174.95 L351.25,174.96 L351.50,174.98 L351.75,174.99 L352.00,175.00 L352.25,175.01 L352.50,175.03 L352.75,175.04 L353.00,175.05 L353.25,175.07 L353.50,175.08 L353.75,175.09 L354.00,175.11 L354.25,175.12 L354.50,175.13 L354.75,175.14 L355.00,175.16 L355.25,175.17 L355.50,175.18 L355.75,175.20 L356.00,175.21 L356.25,175.22 L356.50,175.24 L356.75,175.25 L357.00,175.26 L357.25,175.28 L357.50,175.29 L357.75,175.30 L358.00,175.32 L358.25,175.33 L358.50,175.34 L358.75,175.36 L359.00,175.37 L359.25,175.38 L359.50,175.40 L359.75,175.41 L360.00,175.42 L360.25,175.44 L360.50,175.45 L360.75,175.46 L361.00,175.47 L361.25,175.49 L361.50,175.50 L361.75,175.51 L362.00,175.53 L362.25,175.54 L362.50,175.55 L362.75,175.56 L363.00,175.58 L363.25,175.59 L363.50,175.60 L363.75,175.62 L364.00,175.63 L364.25,175.64 L364.50,175.65 L364.75,175.67 L365.00,175.68 L365.25,175.69 L365.50,175.70 L365.75,175.71 L366.00,175.73 L366.25,175.74 L366.50,175.75 L366.75,175.76 L367.00,175.77 L367.25,175.79 L367.50,175.80 L367.75,175.81 L368.00,175.82 L368.25,175.83 L368.50,175.85 L368.75,175.86 L369.00,175.87 L369.25,175.88 L369.50,175.89 L369.75,175.90 L370.00,175.91 L370.25,175.92 L370.50,175.94 L370.75,175.95 L371.00,175.96 L371.25,175.97 L371.50,175.98 L371.75,175.99 L372.00,176.00 L372.25,176.01 L372.50,176.02 L372.75,176.03 L373.00,176.05 L373.25,176.06 L373.50,176.07 L373.75,176.08 L374.00,176.09 L374.25,176.10 L374.50,176.11 L374.75,176.12 L375.00,176.13 L375.25,176.14 L375.50,176.15 L375.75,176.16 L376.00,176.17 L376.25,176.18 L376.50,176.19 L376.75,176.20 L377.00,176.21 L377.25,176.22 L377.50,176.23 L377.75,176.24 L378.00,176.25 L378.25,176.26 L378.50,176.27 L378.75,176.28 L379.00,176.29 L379.25,176.30 L379.50,176.31 L379.75,176.32 L380.00,176.33 L380.25,176.34 L380.50,176.35 L380.75,176.36 L381.00,176.37 L381.25,176.38 L381.50,176.39 L381.75,176.40 L382.00,176.41 L382.25,176.42 L382.50,176.43 L382.75,176.44 L383.00,176.45 L383.25,176.46 L383.50,176.46 L383.75,176.47 L384.00,176.48 L384.25,176.49 L384.50,176.50" stroke="#00f" stroke-dasharray="4.3 4.87" stroke-dashoffset="5.49"/>
<path d="M174.50,171.00 L174.75,170.98 L175.00,170.95 L175.25,170.93 L175.50,170.90 L175.75,170.87 L176.00,170.84 L176.25,170.81 L176.50,170.78 L176.75,170.74 L177.00,170.71 L177.25,170.67 L177.50,170.64 L177.75,170.60 L178.00,170.56 L178.25,170.52 L178.50,170.48 L178.75,170.44 L179.00,170.40 L179.25,170.36 L179.50,170.32 L179.75,170.27 L180.00,170.23 L180.25,170.18 L180.50,170.13 L180.75,170.09 L181.00,170.04 L181.25,169.99 L181.50,169.94 L181.75,169.89 L182.00,169.84 L182.25,169.78 L182.50,169.73 L182.75,169.68 L183.00,169.63 L183.25,169.57 L183.50,169.52 L183.75,169.46 L184.00,169.41 L184.25,169.35 L184.50,169.29 L184.75,169.23 L185.00,169.18 L185.25,169.12 L185.50,169.06 L185.75,169.00 L186.00,168.94 L186.25,168.88 L186.50,168.82 L186.75,168.76 L187.00,168.70 L187.25,168.64 L187.50,168.57 L187.75,168.51 L188.00,168.44 L188.25,168.37 L188.50,168.30 L188.75,168.22 L189.00,168.15 L189.25,168.07 L189.50,167.99 L189.75,167.91 L190.00,167.83 L190.25,167.75 L190.50,167.66 L190.75,167.58 L191.00,167.49 L191.25,167.40 L191.50,167.31 L191.75,167.22 L192.00,167.13 L192.25,167.04 L192.50,166.94 L192.75,166.85 L193.00,166.76 L193.25,166.66 L193.50,166.57 L193.75,166.47 L194.00,166.38 L194.25,166.28 L194.50,166.18 L194.75,166.09 L195.00,165.99 L195.25,165.89 L195.50,165.80 L195.75,165.70 L196.00,165.61 L196.25,165.51 L196.50,165.41 L196.75,165.32 L197.00,165.22 L197.25,165.13 L197.50,165.03 L197.75,164.94 L198.00,164.84 L198.25,164.74 L198.50,164.64 L198.75,164.54 L199.00,164.44 L199.25,164.34 L199.50,164.24 L199.75,164.14 L200.00,164.04 L200.25,163.93 L200.50,163.83 L200.75,163.72 L201.00,163.62 L201.25,163.51 L201.50,163.40 L201.75,163.29 L202.00,163.18 L202.25,163.07 L202.50,162.95 L202.75,162.84 L203.00,162.73 L203.25,162.61 L203.50,162.50 L203.75,162.38 L204.00,162.26 L204.25,162.14 L204.50,162.02 L204.75,161.90 L205.00,161.78 L205.25,161.65 L205.50,161.53 L205.75,161.40 L206.00,161.27 L206.25,161.15 L206.50,161.01 L206.75,160.88 L207.00,160.75 L207.25,160.61 L207.50,160.48 L207.75,160.34 L208.00,160.20 L208.25,160.06 L208.50,159.91 L208.75,159.77 L209.00,159.62 L209.25,159.47 L209.50,159.32 L209.75,159.17 L210.00,159.01 L210.25,158.85 L210.50,158.69 L210.75,158.53 L211.00,158.37 L211.25,158.20 L211.50,158.03 L211.75,157.86 L212.00,157.69 L212.25,157.52 L212.50,157.34 L212.75,157.16 L213.00,156.98 L213.25,156.79 L213.50,156.60 L213.75,156.41 L214.00,156.21 L214.25,156.00 L214.50,155.80 L214.75,155.59 L215.00,155.38 L215.25,155.18 L215.50,154.97 L215.75,154.76 L216.00,154.56 L216.25,154.36 L216.50,154.16 L216.75,153.96 L217.00,153.77 L217.25,153.57 L217.50,153.38 L217.75,153.18 L218.00,152.99 L218.25,152.79 L218.50,152.60 L218.75,152.41 L219.00,152.22 L219.25,152.04 L219.50,151.86 L219.75,151.68 L220.00,151.50 L220.25,151.33 L220.50,151.17 L220.75,151.02 L221.00,150.87 L221.25,150.73 L221.50,150.59 L221.75,150.45 L222.00,150.31 L222.25,150.16 L222.50,150.01 L222.75,149.85 L223.00,149.69 L223.25,149.51 L223.50,149.33 L223.75,149.13 L224.00,148.91 L224.25,148.66 L224.50,148.39 L224.75,148.09 L225.00,147.78 L225.25,147.45 L225.50,147.11 L225.75,146.76 L226.00,146.41 L226.25,146.07 L226.50,145.72 L226.75,145.37 L227.00,145.00 L227.25,144.63 L227.50,144.25 L227.75,143.86 L228.00,143.48 L228.25,143.09 L228.50,142.71 L228.75,142.32 L229.00,141.94 L229.25,141.55 L229.50,141.16 L229.75,140.77 L230.00,140.38 L230.25,139.99 L230.50,139.60 L230.75,139.22 L231.00,138.84 L231.25,138.47 L231.50,138.11 L231.75,137.75 L232.00,137.38 L232.25,137.03 L232.50,136.67 L232.75,136.32 L233.00,135.98 L233.25,135.64 L233.50,135.31 L233.75,134.99 L234.00,134.68 L234.25,134.37 L234.50,134.08 L234.75,133.80 L235.00,133.52 L235.25,133.24 L235.50,132.97 L235.75,132.70 L236.00,132.43 L236.25,132.16 L236.50,131.88 L236.75,131.60 L237.00,131.32 L237.25,131.02 L237.50,130.73 L237.75,130.43 L238.00,130.13 L238.25,129.83 L238.50,129.53 L238.75,129.23 L239.00,128.92 L239.25,128.62 L239.50,128.31 L239.75,128.00 L240.00,127.69 L240.25,127.38 L240.50,127.07 L240.75,126.76 L241.00,126.45 L241.25,126.13 L241.50,125.82 L241.75,125.50 L242.00,125.18 L242.25,124.86 L242.50,124.55 L242.75,124.23 L243.00,123.90 L243.25,123.58 L243.50,123.26 L243.75,122.94 L244.00,122.61 L244.25,122.29 L244.50,121.96 L244.75,121.64 L245.00,121.31 L245.25,120.98 L245.50,120.66 L245.75,120.33 L246.00,120.00 L246.25,119.67 L246.50,119.35 L246.75,119.02 L247.00,118.70 L247.25,118.38 L247.50,118.06 L247.75,117.74 L248.00,117.42 L248.25,117.10 L248.50,116.78 L248.75,116.45 L249.00,116.13 L249.25,115.81 L249.50,115.48 L249.75,115.16 L250.00,114.83 L250.25,114.49 L250.50,114.16 L250.75,113.82 L251.00,113.48 L251.25,113.13 L251.50,112.78 L251.75,112.43 L252.00,112.07 L252.25,111.71 L252.50,111.34 L252.75,110.97 L253.00,110.59 L253.25,110.20 L253.50,109.81 L253.75,109.41 L254.00,109.00 L254.25,108.59 L254.50,108.17 L254.75,107.74 L255.00,107.31 L255.25,106.87 L255.50,106.43 L255.75,105.97 L256.00,105.51 L256.25,105.03 L256.50,104.55 L256.75,104.05 L257.00,103.55 L257.25,103.03 L257.50,102.50 L257.75,101.96 L258.00,101.40 L258.25,100.83 L258.50,100.24 L258.75,99.62 L259.00,98.94 L259.25,98.21 L259.50,97.46 L259.75,96.72 L260.00,96.00 L260.25,95.31 L260.50,94.64 L260.75,93.97 L261.00,93.31 L261.25,92.66 L261.50,92.02 L261.75,91.38 L262.00,90.75 L262.25,90.12 L262.50,89.49 L262.75,88.86 L263.00,88.22 L263.25,87.59 L263.50,86.95 L263.75,86.30 L264.00,85.65 L264.25,84.99 L264.50,84.32 L264.75,83.63 L265.00,82.94 L265.25,82.23 L265.50,81.50 L265.75,80.76 L266.00,80.00 L266.25,79.22 L266.50,78.42 L266.75,77.60 L267.00,76.77 L267.25,75.92 L267.50,75.05 L267.75,74.17 L268.00,73.28 L268.25,72.37 L268.50,71.46 L268.75,70.53 L269.00,69.60 L269.25,68.66 L269.50,67.72 L269.75,66.77 L270.00,65.82 L270.25,64.86 L270.50,63.91 L270.75,62.95 L271.00,62.00 L271.25,61.03 L271.50,60.04 L271.75,59.02 L272.00,57.98 L272.25,56.94 L272.50,55.90 L272.75,54.86 L273.00,53.84 L273.25,52.83 L273.50,51.85 L273.75,50.91 L274.00,50.00 L274.25,49.11 L274.50,48.20 L274.75,47.30 L275.00,46.40 L275.25,45.51 L275.50,44.65 L275.75,43.82 L276.00,43.04 L276.25,42.31 L276.50,41.63 L276.75,41.03 L277.00,40.50 L277.25,40.01 L277.50,39.52 L277.75,39.03 L278.00,38.55 L278.25,38.09 L278.50,37.65 L278.75,37.25 L279.00,36.88 L279.25,36.55 L279.50,36.27 L279.75,36.05 L280.00,35.90 L280.25,35.81 L280.50,35.81 L280.75,35.88 L281.00,36.02 L281.25,36.23 L281.50,36.50 L281.75,36.82 L282.00,37.19 L282.25,37.60 L282.50,38.04 L282.75,38.51 L283.00,39.00 L283.25,39.61 L283.50,40.43 L283.75,41.43 L284.00,42.58 L284.25,43.84 L284.50,45.18 L284.75,46.58 L285.00,48.00 L285.25,49.56 L285.50,51.34 L285.75,53.27 L286.00,55.29 L286.25,57.31 L286.50,59.26 L286.75,61.07 L287.00,62.79 L287.25,64.47 L287.50,66.19 L287.75,68.01 L288.00,70.00 L288.25,72.30 L288.50,74.86 L288.75,77.49 L289.00,80.00 L289.25,82.36 L289.50,84.67 L289.75,86.95 L290.00,89.19 L290.25,91.41 L290.50,93.61 L290.75,95.81 L291.00,98.00 L291.25,100.24 L291.50,102.53 L291.75,104.80 L292.00,106.96 L292.25,108.93 L292.50,110.67 L292.75,112.26 L293.00,113.74 L293.25,115.15 L293.50,116.48 L293.75,117.77 L294.00,119.02 L294.25,120.25 L294.50,121.48 L294.75,122.72 L295.00,124.00 L295.25,125.31 L295.50,126.64 L295.75,127.98 L296.00,129.32 L296.25,130.65 L296.50,131.97 L296.75,133.26 L297.00,134.51 L297.25,135.72 L297.50,136.88 L297.75,137.97 L298.00,139.00 L298.25,139.98 L298.50,140.94 L298.75,141.88 L299.00,142.80 L299.25,143.69 L299.50,144.56 L299.75,145.40 L300.00,146.20 L300.25,146.97 L300.50,147.70 L300.75,148.40 L301.00,149.05 L301.25,149.66 L301.50,150.22 L301.75,150.75 L302.00,151.25 L302.25,151.73 L302.50,152.18 L302.75,152.61 L303.00,153.02 L303.25,153.41 L303.50,153.79 L303.75,154.15 L304.00,154.50 L304.25,154.84 L304.50,155.17 L304.75,155.49 L305.00,155.80 L305.25,156.10 L305.50,156.39 L305.75,156.67 L306.00,156.95 L306.25,157.22 L306.50,157.49 L306.75,157.75 L307.00,158.00 L307.25,158.26 L307.50,158.51 L307.75,158.75 L308.00,159.00 L308.25,159.24 L308.50,159.49 L308.75,159.73 L309.00,159.96 L309.25,160.20 L309.50,160.43 L309.75,160.65 L310.00,160.88 L310.25,161.10 L310.50,161.31 L310.75,161.52 L311.00,161.73 L311.25,161.93 L311.50,162.12 L311.75,162.31 L312.00,162.50 L312.25,162.68 L312.50,162.86 L312.75,163.03 L313.00,163.20 L313.25,163.36 L313.50,163.52 L313.75,163.68 L314.00,163.84 L314.25,163.99 L314.50,164.14 L314.75,164.29 L315.00,164.43 L315.25,164.58 L315.50,164.72 L315.75,164.86 L316.00,165.00 L316.25,165.14 L316.50,165.28 L316.75,165.42 L317.00,165.55 L317.25,165.69 L317.50,165.83 L317.75,165.96 L318.00,166.09 L318.25,166.22 L318.50,166.34 L318.75,166.46 L319.00,166.58 L319.25,166.69 L319.50,166.80 L319.75,166.90 L320.00,167.00 L320.25,167.09 L320.50,167.19 L320.75,167.28 L321.00,167.36 L321.25,167.45 L321.50,167.54 L321.75,167.62 L322.00,167.70 L322.25,167.79 L322.50,167.87 L322.75,167.95 L323.00,168.02 L323.25,168.10 L323.50,168.17 L323.75,168.25 L324.00,168.32 L324.25,168.39 L324.50,168.46 L324.75,168.53 L325.00,168.59 L325.25,168.66 L325.50,168.72 L325.75,168.79 L326.00,168.85 L326.25,168.91 L326.50,168.97 L326.75,169.03 L327.00,169.08 L327.25,169.14 L327.50,169.19 L327.75,169.25 L328.00,169.30 L328.25,169.35 L328.50,169.40 L328.75,169.45 L329.00,169.50 L329.25,169.55 L329.50,169.60 L329.75,169.65 L330.00,169.70 L330.25,169.74 L330.50,169.79 L330.75,169.83 L331.00,169.88 L331.25,169.92 L331.50,169.97 L331.75,170.01 L332.00,170.05 L332.25,170.09 L332.50,170.14 L332.75,170.18 L333.00,170.22 L333.25,170.26 L333.50,170.30 L333.75,170.34 L334.00,170.37 L334.25,170.41 L334.50,170.45 L334.75,170.49 L335.00,170.53 L335.25,170.56 L335.50,170.60 L335.75,170.63 L336.00,170.67 L336.25,170.71 L336.50,170.74 L336.75,170.78 L337.00,170.81 L337.25,170.84 L337.50,170.88 L337.75,170.91 L338.00,170.94 L338.25,170.98 L338.50,171.01 L338.75,171.04 L339.00,171.07 L339.25,171.11 L339.50,171.14 L339.75,171.17 L340.00,171.20 L340.25,171.23 L340.50,171.26 L340.75,171.29 L341.00,171.32 L341.25,171.35 L341.50,171.38 L341.75,171.41 L342.00,171.44 L342.25,171.47 L342.50,171.50 L342.75,171.53 L343.00,171.56 L343.25,171.59 L343.50,171.62 L343.75,171.65 L344.00,171.67 L344.25,171.70 L344.50,171.73 L344.75,171.76 L345.00,171.78 L345.25,171.81 L345.50,171.84 L345.75,171.87 L346.00,171.89 L346.25,171.92 L346.50,171.95 L346.75,171.97 L347.00,172.00 L347.25,172.02 L347.50,172.05 L347.75,172.07 L348.00,172.10 L348.25,172.13 L348.50,172.15 L348.75,172.18 L349.00,172.20 L349.25,172.23 L349.50,172.25 L349.75,172.28 L350.00,172.30 L350.25,172.32 L350.50,172.35 L350.75,172.37 L351.00,172.40 L351.25,172.42 L351.50,172.44 L351.75,172.47 L352.00,172.49 L352.25,172.51 L352.50,172.54 L352.75,172.56 L353.00,172.58 L353.25,172.61 L353.50,172.63 L353.75,172.65 L354.00,172.68 L354.25,172.70 L354.50,172.72 L354.75,172.74 L355.00,172.77 L355.25,172.79 L355.50,172.81 L355.75,172.83 L356.00,172.85 L356.25,172.88 L356.50,172.90 L356.75,172.92 L357.00,172.94 L357.25,172.96 L357.50,172.99 L357.75,173.01 L358.00,173.03 L358.25,173.05 L358.50,173.07 L358.75,173.09 L359.00,173.11 L359.25,173.14 L359.50,173.16 L359.75,173.18 L360.00,173.20 L360.25,173.22 L360.50,173.24 L360.75,173.26 L361.00,173.28 L361.25,173.31 L361.50,173.33 L361.75,173.35 L362.00,173.37 L362.25,173.39 L362.50,173.41 L362.75,173.43 L363.00,173.45 L363.25,173.47 L363.50,173.49 L363.75,173.51 L364.00,173.53 L364.25,173.56 L364.50,173.58 L364.75,173.60 L365.00,173.62 L365.25,173.64 L365.50,173.66 L365.75,173.68 L366.00,173.70 L366.25,173.72 L366.50,173.74 L366.75,173.76 L367.00,173.78 L367.25,173.80 L367.50,173.82 L367.75,173.84 L368.00,173.86 L368.25,173.88 L368.50,173.89 L368.75,173.91 L369.00,173.93 L369.25,173.95 L369.50,173.97 L369.75,173.99 L370.00,174.01 L370.25,174.03 L370.50,174.05 L370.75,174.07 L371.00,174.09 L371.25,174.11 L371.50,174.12 L371.75,174.14 L372.00,174.16 L372.25,174.18 L372.50,174.20 L372.75,174.22 L373.00,174.24 L373.25,174.25 L373.50,174.27 L373.75,174.29 L374.00,174.31 L374.25,174.33 L374.50,174.34 L374.75,174.36 L375.00,174.38 L375.25,174.40 L375.50,174.42 L375.75,174.43 L376.00,174.45 L376.25,174.47 L376.50,174.49 L376.75,174.50 L377.00,174.52 L377.25,174.54 L377.50,174.55 L377.75,174.57 L378.00,174.59 L378.25,174.61 L378.50,174.62 L378.75,174.64 L379.00,174.66 L379.25,174.67 L379.50,174.69 L379.75,174.70 L380.00,174.72 L380.25,174.74 L380.50,174.75 L380.75,174.77 L381.00,174.79 L381.25,174.80 L381.50,174.82 L381.75,174.83 L382.00,174.85 L382.25,174.86 L382.50,174.88 L382.75,174.89 L383.00,174.91 L383.25,174.93 L383.50,174.94 L383.75,174.96 L384.00,174.97 L384.25,174.99 L384.50,175.00" stroke="#f0f" stroke-width="1.7" stroke-dasharray="2.1 2.4" stroke-dashoffset="4.23"/>
</g>
<path d="M336.7,27.5H366" stroke="#000" stroke-width="1.2"/>
<path d="M336.7,42H366" stroke="#f00"/>
<path d="M336.7,56.5H366" stroke="#0f0" stroke-dasharray="7.3 3.74"/>
<path d="M336.7,71H366" stroke="#00f" stroke-dasharray="4.2 4.85"/>
<path d="M336.7,85.5H366" stroke="#f0f" stroke-width="1.7" stroke-dasharray="2.1 2.4" stroke-dashoffset="-0.2"/>
</g>
<g stroke="#000" stroke-width="1.5" fill="none"><rect x="174.55" y="12.3" width="209.1" height="189.6"/><path d="M204.421,201.9v-7.6 M204.421,12.3v7.6 M234.293,201.9v-7.6 M234.293,12.3v7.6 M264.164,201.9v-7.6 M264.164,12.3v7.6 M294.036,201.9v-7.6 M294.036,12.3v7.6 M323.907,201.9v-7.6 M323.907,12.3v7.6 M353.779,201.9v-7.6 M353.779,12.3v7.6 M174.55,33.3667h7.6 M383.65,33.3667h-7.6 M174.55,54.4333h7.6 M383.65,54.4333h-7.6 M174.55,75.5h7.6 M383.65,75.5h-7.6 M174.55,96.5667h7.6 M383.65,96.5667h-7.6 M174.55,117.633h7.6 M383.65,117.633h-7.6 M174.55,138.7h7.6 M383.65,138.7h-7.6 M174.55,159.767h7.6 M383.65,159.767h-7.6 M174.55,180.833h7.6 M383.65,180.833h-7.6 " stroke-width="1.3"/></g>
<text x="328" y="32.35" text-anchor="end">initial</text>
<text x="328" y="46.85" text-anchor="end">Y=5</text>
<text x="328" y="61.35" text-anchor="end">Y=10</text>
<text x="328" y="75.85" text-anchor="end">Y=15</text>
<text x="328" y="90.35" text-anchor="end">Y=20</text>
<text x="165.5" y="17.1" text-anchor="end">1.8</text>
<text x="165.5" y="38.1667" text-anchor="end">1.7</text>
<text x="165.5" y="59.2333" text-anchor="end">1.6</text>
<text x="165.5" y="80.3" text-anchor="end">1.5</text>
<text x="165.5" y="101.367" text-anchor="end">1.4</text>
<text x="165.5" y="122.433" text-anchor="end">1.3</text>
<text x="165.5" y="143.5" text-anchor="end">1.2</text>
<text x="165.5" y="164.567" text-anchor="end">1.1</text>
<text x="165.5" y="185.633" text-anchor="end">1</text>
<text x="165.5" y="206.7" text-anchor="end">0.9</text>
<text x="174.55" y="221.45" text-anchor="middle">-20</text>
<text x="204.421" y="221.45" text-anchor="middle">-10</text>
<text x="235.993" y="221.45" text-anchor="middle">0</text>
<text x="265.864" y="221.45" text-anchor="middle">10</text>
<text x="295.736" y="221.45" text-anchor="middle">20</text>
<text x="325.607" y="221.45" text-anchor="middle">30</text>
<text x="355.479" y="221.45" text-anchor="middle">40</text>
<text x="385.35" y="221.45" text-anchor="middle">50</text>
<text x="278.7" y="244.9" text-anchor="middle">l = log(1/r<tspan font-size="11.6" dy="-7.3">2</tspan><tspan dy="7.3">)</tspan></text>
<text transform="translate(128,107.3) rotate(-90)" text-anchor="middle" letter-spacing="0.06">log(1/S<tspan font-size="11.6" dy="4">MFA</tspan><tspan dy="-4">)/log(1/S</tspan><tspan font-size="11.6" dy="4">BK</tspan><tspan dy="-4">)</tspan></text>
<g fill="none" stroke-width="1.5" stroke-linejoin="round">
<path d="M540.75,12.30 L541.25,12.84 L541.75,13.42 L542.25,14.04 L542.74,14.70 L543.24,15.40 L543.74,16.14 L544.24,16.92 L544.74,17.72 L545.24,18.56 L545.73,19.44 L546.23,20.34 L546.73,21.27 L547.23,22.23 L547.73,23.21 L548.23,24.21 L548.72,25.24 L549.22,26.30 L549.72,27.37 L550.22,28.46 L550.72,29.56 L551.22,30.69 L551.71,31.83 L552.21,32.98 L552.71,34.15 L553.21,35.33 L553.71,36.52 L554.21,37.72 L554.70,38.92 L555.20,40.14 L555.70,41.36 L556.20,42.59 L556.70,43.83 L557.20,45.07 L557.69,46.31 L558.19,47.56 L558.69,48.81 L559.19,50.05 L559.69,51.31 L560.18,52.56 L560.68,53.81 L561.18,55.05 L561.68,56.30 L562.18,57.55 L562.68,58.79 L563.17,60.03 L563.67,61.26 L564.17,62.49 L564.67,63.72 L565.17,64.94 L565.67,66.15 L566.16,67.36 L566.66,68.56 L567.16,69.76 L567.66,70.95 L568.16,72.13 L568.66,73.31 L569.15,74.47 L569.65,75.63 L570.15,76.78 L570.65,77.93 L571.15,79.06 L571.65,80.18 L572.14,81.30 L572.64,82.41 L573.14,83.51 L573.64,84.59 L574.14,85.67 L574.64,86.74 L575.13,87.80 L575.63,88.85 L576.13,89.89 L576.63,90.92 L577.13,91.95 L577.63,92.96 L578.12,93.96 L578.62,94.95 L579.12,95.93 L579.62,96.90 L580.12,97.86 L580.62,98.81 L581.12,99.75 L581.61,100.68 L582.11,101.60 L582.61,102.51 L583.11,103.41 L583.61,104.30 L584.11,105.18 L584.60,106.06 L585.10,106.92 L585.60,107.77 L586.10,108.61 L586.60,109.44 L587.10,110.27 L587.59,111.08 L588.09,111.88 L588.59,112.68 L589.09,113.46 L589.59,114.24 L590.09,115.01 L590.58,115.77 L591.08,116.52 L591.58,117.26 L592.08,117.99 L592.58,118.71 L593.08,119.43 L593.57,120.13 L594.07,120.83 L594.57,121.52 L595.07,122.20 L595.57,122.88 L596.06,123.54 L596.56,124.20 L597.06,124.85 L597.56,125.49 L598.06,126.13 L598.56,126.75 L599.05,127.37 L599.55,127.99 L600.05,128.59 L600.55,129.19 L601.05,129.78 L601.55,130.36 L602.04,130.94 L602.54,131.51 L603.04,132.07 L603.54,132.63 L604.04,133.18 L604.54,133.73 L605.03,134.26 L605.53,134.80 L606.03,135.32 L606.53,135.84 L607.03,136.35 L607.53,136.86 L608.02,137.36 L608.52,137.86 L609.02,138.35 L609.52,138.84 L610.02,139.32 L610.52,139.79 L611.01,140.26 L611.51,140.72 L612.01,141.18 L612.51,141.64 L613.01,142.08 L613.51,142.53 L614.00,142.97 L614.50,143.40 L615.00,143.83 L615.50,144.26 L616.00,144.68 L616.50,145.09 L617.00,145.51 L617.49,145.91 L617.99,146.32 L618.49,146.72 L618.99,147.11 L619.49,147.50 L619.99,147.89 L620.48,148.27 L620.98,148.65 L621.48,149.03 L621.98,149.40 L622.48,149.77 L622.98,150.13 L623.47,150.49 L623.97,150.85 L624.47,151.20 L624.97,151.55 L625.47,151.90 L625.96,152.24 L626.46,152.58 L626.96,152.92 L627.46,153.25 L627.96,153.59 L628.46,153.91 L628.95,154.24 L629.45,154.56 L629.95,154.88 L630.45,155.20 L630.95,155.51 L631.45,155.82 L631.94,156.13 L632.44,156.43 L632.94,156.74 L633.44,157.04 L633.94,157.33 L634.44,157.63 L634.93,157.92 L635.43,158.21 L635.93,158.50 L636.43,158.78 L636.93,159.06 L637.43,159.34 L637.92,159.62 L638.42,159.90 L638.92,160.17 L639.42,160.44 L639.92,160.71 L640.42,160.98 L640.91,161.24 L641.41,161.50 L641.91,161.76 L642.41,162.02 L642.91,162.28 L643.41,162.53 L643.90,162.79 L644.40,163.04 L644.90,163.28 L645.40,163.53 L645.90,163.78 L646.40,164.02 L646.89,164.26 L647.39,164.50 L647.89,164.73 L648.39,164.97 L648.89,165.20 L649.39,165.44 L649.88,165.67 L650.38,165.89 L650.88,166.12 L651.38,166.35 L651.88,166.57 L652.38,166.79 L652.88,167.01 L653.37,167.23 L653.87,167.45 L654.37,167.66 L654.87,167.87 L655.37,168.09 L655.87,168.30 L656.36,168.51 L656.86,168.71 L657.36,168.92 L657.86,169.12 L658.36,169.33 L658.86,169.53 L659.35,169.73 L659.85,169.92 L660.35,170.12 L660.85,170.32 L661.35,170.51 L661.85,170.70 L662.34,170.89 L662.84,171.08 L663.34,171.27 L663.84,171.46 L664.34,171.64 L664.83,171.83 L665.33,172.01 L665.83,172.19 L666.33,172.37 L666.83,172.55 L667.33,172.73 L667.82,172.90 L668.32,173.08 L668.82,173.25 L669.32,173.42 L669.82,173.59 L670.32,173.76 L670.81,173.93 L671.31,174.10 L671.81,174.26 L672.31,174.43 L672.81,174.59 L673.31,174.75 L673.80,174.91 L674.30,175.07 L674.80,175.23 L675.30,175.39 L675.80,175.54 L676.30,175.70 L676.79,175.85 L677.29,176.00 L677.79,176.15 L678.29,176.30 L678.79,176.45 L679.29,176.60 L679.78,176.74 L680.28,176.89 L680.78,177.03 L681.28,177.17 L681.78,177.31 L682.28,177.45 L682.77,177.59 L683.27,177.73 L683.77,177.87 L684.27,178.00 L684.77,178.14 L685.27,178.27 L685.76,178.40 L686.26,178.53 L686.76,178.66 L687.26,178.79 L687.76,178.92 L688.26,179.05 L688.75,179.17 L689.25,179.30 L689.75,179.42 L690.25,179.54 L690.75,179.66 L691.25,179.78 L691.74,179.90 L692.24,180.02 L692.74,180.14 L693.24,180.25 L693.74,180.37 L694.24,180.48 L694.73,180.60 L695.23,180.71 L695.73,180.82 L696.23,180.93 L696.73,181.04 L697.23,181.15 L697.72,181.26 L698.22,181.36 L698.72,181.47 L699.22,181.57 L699.72,181.68 L700.22,181.78 L700.71,181.88 L701.21,181.98 L701.71,182.08 L702.21,182.18 L702.71,182.28 L703.21,182.38 L703.70,182.48 L704.20,182.57 L704.70,182.67 L705.20,182.76 L705.70,182.86 L706.20,182.95 L706.69,183.04 L707.19,183.14 L707.69,183.23 L708.19,183.32 L708.69,183.41 L709.19,183.50 L709.68,183.58 L710.18,183.67 L710.68,183.76 L711.18,183.85 L711.68,183.93 L712.18,184.02 L712.67,184.10 L713.17,184.19 L713.67,184.27 L714.17,184.35 L714.67,184.44 L715.17,184.52 L715.66,184.60 L716.16,184.68 L716.66,184.76 L717.16,184.84 L717.66,184.92 L718.16,185.00 L718.65,185.08 L719.15,185.16 L719.65,185.24 L720.15,185.32 L720.65,185.39 L721.15,185.47 L721.64,185.55 L722.14,185.63 L722.64,185.70 L723.14,185.78 L723.64,185.86 L724.14,185.93 L724.63,186.01 L725.13,186.08 L725.63,186.16 L726.13,186.24 L726.63,186.31 L727.13,186.39 L727.62,186.46 L728.12,186.54 L728.62,186.62 L729.12,186.69 L729.62,186.77 L730.12,186.85 L730.62,186.92 L731.11,187.00 L731.61,187.07 L732.11,187.15 L732.61,187.23 L733.11,187.31 L733.61,187.38 L734.10,187.46 L734.60,187.54 L735.10,187.62 L735.60,187.70 L736.10,187.78 L736.59,187.86 L737.09,187.94 L737.59,188.02 L738.09,188.10 L738.59,188.18 L739.09,188.27 L739.58,188.35 L740.08,188.43 L740.58,188.52 L741.08,188.60 L741.58,188.69 L742.08,188.77 L742.57,188.86 L743.07,188.95 L743.57,189.04 L744.07,189.13 L744.57,189.22 L745.07,189.31 L745.56,189.40 L746.06,189.49 L746.56,189.59 L747.06,189.68 L747.56,189.78 L748.06,189.87 L748.55,189.97 L749.05,190.07 L749.55,190.17 L750.05,190.27" stroke="#000" stroke-width="1.2"/>
<path d="M540.75,12.30 L541.25,13.81 L541.75,15.31 L542.25,16.79 L542.74,18.26 L543.24,19.71 L543.74,21.14 L544.24,22.56 L544.74,23.97 L545.24,25.35 L545.73,26.73 L546.23,28.09 L546.73,29.44 L547.23,30.77 L547.73,32.08 L548.23,33.39 L548.72,34.68 L549.22,35.95 L549.72,37.22 L550.22,38.47 L550.72,39.71 L551.22,40.93 L551.71,42.14 L552.21,43.34 L552.71,44.53 L553.21,45.70 L553.71,46.86 L554.21,48.01 L554.70,49.15 L555.20,50.28 L555.70,51.40 L556.20,52.50 L556.70,53.59 L557.20,54.67 L557.69,55.75 L558.19,56.81 L558.69,57.86 L559.19,58.89 L559.69,59.92 L560.18,60.94 L560.68,61.95 L561.18,62.95 L561.68,63.93 L562.18,64.91 L562.68,65.88 L563.17,66.84 L563.67,67.79 L564.17,68.73 L564.67,69.66 L565.17,70.58 L565.67,71.49 L566.16,72.40 L566.66,73.29 L567.16,74.18 L567.66,75.06 L568.16,75.93 L568.66,76.79 L569.15,77.64 L569.65,78.48 L570.15,79.32 L570.65,80.15 L571.15,80.97 L571.65,81.78 L572.14,82.58 L572.64,83.38 L573.14,84.17 L573.64,84.95 L574.14,85.72 L574.64,86.49 L575.13,87.25 L575.63,88.00 L576.13,88.75 L576.63,89.49 L577.13,90.22 L577.63,90.94 L578.12,91.66 L578.62,92.37 L579.12,93.08 L579.62,93.78 L580.12,94.47 L580.62,95.15 L581.12,95.83 L581.61,96.51 L582.11,97.17 L582.61,97.83 L583.11,98.49 L583.61,99.14 L584.11,99.78 L584.60,100.42 L585.10,101.05 L585.60,101.68 L586.10,102.30 L586.60,102.91 L587.10,103.52 L587.59,104.13 L588.09,104.72 L588.59,105.32 L589.09,105.91 L589.59,106.49 L590.09,107.07 L590.58,107.64 L591.08,108.21 L591.58,108.77 L592.08,109.33 L592.58,109.88 L593.08,110.43 L593.57,110.97 L594.07,111.51 L594.57,112.05 L595.07,112.58 L595.57,113.10 L596.06,113.62 L596.56,114.14 L597.06,114.65 L597.56,115.16 L598.06,115.67 L598.56,116.16 L599.05,116.66 L599.55,117.15 L600.05,117.64 L600.55,118.12 L601.05,118.60 L601.55,119.08 L602.04,119.55 L602.54,120.01 L603.04,120.48 L603.54,120.94 L604.04,121.39 L604.54,121.85 L605.03,122.29 L605.53,122.74 L606.03,123.18 L606.53,123.62 L607.03,124.05 L607.53,124.49 L608.02,124.91 L608.52,125.34 L609.02,125.76 L609.52,126.18 L610.02,126.59 L610.52,127.00 L611.01,127.41 L611.51,127.81 L612.01,128.22 L612.51,128.62 L613.01,129.01 L613.51,129.40 L614.00,129.79 L614.50,130.18 L615.00,130.56 L615.50,130.94 L616.00,131.32 L616.50,131.70 L617.00,132.07 L617.49,132.44 L617.99,132.81 L618.49,133.17 L618.99,133.53 L619.49,133.89 L619.99,134.25 L620.48,134.60 L620.98,134.95 L621.48,135.30 L621.98,135.64 L622.48,135.99 L622.98,136.33 L623.47,136.67 L623.97,137.00 L624.47,137.34 L624.97,137.67 L625.47,138.00 L625.96,138.32 L626.46,138.65 L626.96,138.97 L627.46,139.29 L627.96,139.61 L628.46,139.92 L628.95,140.24 L629.45,140.55 L629.95,140.85 L630.45,141.16 L630.95,141.47 L631.45,141.77 L631.94,142.07 L632.44,142.37 L632.94,142.66 L633.44,142.96 L633.94,143.25 L634.44,143.54 L634.93,143.83 L635.43,144.12 L635.93,144.40 L636.43,144.69 L636.93,144.97 L637.43,145.25 L637.92,145.52 L638.42,145.80 L638.92,146.07 L639.42,146.35 L639.92,146.62 L640.42,146.88 L640.91,147.15 L641.41,147.42 L641.91,147.68 L642.41,147.94 L642.91,148.20 L643.41,148.46 L643.90,148.72 L644.40,148.97 L644.90,149.23 L645.40,149.48 L645.90,149.73 L646.40,149.98 L646.89,150.23 L647.39,150.47 L647.89,150.72 L648.39,150.96 L648.89,151.20 L649.39,151.44 L649.88,151.68 L650.38,151.92 L650.88,152.16 L651.38,152.39 L651.88,152.63 L652.38,152.86 L652.88,153.09 L653.37,153.32 L653.87,153.54 L654.37,153.77 L654.87,154.00 L655.37,154.22 L655.87,154.44 L656.36,154.66 L656.86,154.88 L657.36,155.10 L657.86,155.32 L658.36,155.54 L658.86,155.75 L659.35,155.97 L659.85,156.18 L660.35,156.39 L660.85,156.60 L661.35,156.81 L661.85,157.02 L662.34,157.22 L662.84,157.43 L663.34,157.63 L663.84,157.84 L664.34,158.04 L664.83,158.24 L665.33,158.44 L665.83,158.64 L666.33,158.84 L666.83,159.03 L667.33,159.23 L667.82,159.42 L668.32,159.62 L668.82,159.81 L669.32,160.00 L669.82,160.19 L670.32,160.38 L670.81,160.57 L671.31,160.76 L671.81,160.94 L672.31,161.13 L672.81,161.31 L673.31,161.50 L673.80,161.68 L674.30,161.86 L674.80,162.04 L675.30,162.22 L675.80,162.40 L676.30,162.58 L676.79,162.76 L677.29,162.93 L677.79,163.11 L678.29,163.28 L678.79,163.45 L679.29,163.63 L679.78,163.80 L680.28,163.97 L680.78,164.14 L681.28,164.31 L681.78,164.47 L682.28,164.64 L682.77,164.81 L683.27,164.97 L683.77,165.14 L684.27,165.30 L684.77,165.46 L685.27,165.62 L685.76,165.79 L686.26,165.95 L686.76,166.11 L687.26,166.26 L687.76,166.42 L688.26,166.58 L688.75,166.73 L689.25,166.89 L689.75,167.04 L690.25,167.20 L690.75,167.35 L691.25,167.50 L691.74,167.65 L692.24,167.80 L692.74,167.95 L693.24,168.10 L693.74,168.25 L694.24,168.40 L694.73,168.55 L695.23,168.69 L695.73,168.84 L696.23,168.98 L696.73,169.12 L697.23,169.27 L697.72,169.41 L698.22,169.55 L698.72,169.69 L699.22,169.83 L699.72,169.97 L700.22,170.11 L700.71,170.25 L701.21,170.38 L701.71,170.52 L702.21,170.66 L702.71,170.79 L703.21,170.92 L703.70,171.06 L704.20,171.19 L704.70,171.32 L705.20,171.45 L705.70,171.58 L706.20,171.71 L706.69,171.84 L707.19,171.97 L707.69,172.10 L708.19,172.22 L708.69,172.35 L709.19,172.48 L709.68,172.60 L710.18,172.73 L710.68,172.85 L711.18,172.97 L711.68,173.09 L712.18,173.22 L712.67,173.34 L713.17,173.46 L713.67,173.57 L714.17,173.69 L714.67,173.81 L715.17,173.93 L715.66,174.05 L716.16,174.16 L716.66,174.28 L717.16,174.39 L717.66,174.50 L718.16,174.62 L718.65,174.73 L719.15,174.84 L719.65,174.95 L720.15,175.06 L720.65,175.17 L721.15,175.28 L721.64,175.39 L722.14,175.50 L722.64,175.61 L723.14,175.71 L723.64,175.82 L724.14,175.92 L724.63,176.03 L725.13,176.13 L725.63,176.23 L726.13,176.34 L726.63,176.44 L727.13,176.54 L727.62,176.64 L728.12,176.74 L728.62,176.84 L729.12,176.94 L729.62,177.03 L730.12,177.13 L730.62,177.23 L731.11,177.32 L731.61,177.42 L732.11,177.51 L732.61,177.60 L733.11,177.70 L733.61,177.79 L734.10,177.88 L734.60,177.97 L735.10,178.06 L735.60,178.15 L736.10,178.24 L736.59,178.33 L737.09,178.42 L737.59,178.50 L738.09,178.59 L738.59,178.67 L739.09,178.76 L739.58,178.84 L740.08,178.93 L740.58,179.01 L741.08,179.09 L741.58,179.17 L742.08,179.25 L742.57,179.33 L743.07,179.41 L743.57,179.49 L744.07,179.57 L744.57,179.65 L745.07,179.72 L745.56,179.80 L746.06,179.87 L746.56,179.95 L747.06,180.02 L747.56,180.09 L748.06,180.17 L748.55,180.24 L749.05,180.31 L749.55,180.38 L750.05,180.45" stroke="#00f" stroke-width="2" stroke-dasharray="7.3 3.607" stroke-dashoffset="3.64"/>
<path d="M540.75,12.30 L541.25,13.41 L541.75,14.51 L542.25,15.62 L542.74,16.73 L543.24,17.83 L543.74,18.94 L544.24,20.04 L544.74,21.15 L545.24,22.25 L545.73,23.35 L546.23,24.45 L546.73,25.55 L547.23,26.65 L547.73,27.74 L548.23,28.84 L548.72,29.93 L549.22,31.01 L549.72,32.10 L550.22,33.18 L550.72,34.26 L551.22,35.34 L551.71,36.41 L552.21,37.48 L552.71,38.54 L553.21,39.61 L553.71,40.67 L554.21,41.72 L554.70,42.77 L555.20,43.82 L555.70,44.86 L556.20,45.90 L556.70,46.94 L557.20,47.97 L557.69,48.99 L558.19,50.02 L558.69,51.03 L559.19,52.05 L559.69,53.05 L560.18,54.06 L560.68,55.06 L561.18,56.05 L561.68,57.04 L562.18,58.02 L562.68,59.00 L563.17,59.98 L563.67,60.95 L564.17,61.91 L564.67,62.87 L565.17,63.82 L565.67,64.77 L566.16,65.71 L566.66,66.65 L567.16,67.59 L567.66,68.51 L568.16,69.44 L568.66,70.35 L569.15,71.27 L569.65,72.17 L570.15,73.07 L570.65,73.97 L571.15,74.86 L571.65,75.75 L572.14,76.63 L572.64,77.50 L573.14,78.37 L573.64,79.24 L574.14,80.10 L574.64,80.95 L575.13,81.80 L575.63,82.64 L576.13,83.48 L576.63,84.31 L577.13,85.14 L577.63,85.96 L578.12,86.78 L578.62,87.59 L579.12,88.40 L579.62,89.20 L580.12,89.99 L580.62,90.78 L581.12,91.57 L581.61,92.35 L582.11,93.12 L582.61,93.89 L583.11,94.66 L583.61,95.42 L584.11,96.17 L584.60,96.92 L585.10,97.67 L585.60,98.41 L586.10,99.14 L586.60,99.87 L587.10,100.60 L587.59,101.32 L588.09,102.03 L588.59,102.74 L589.09,103.45 L589.59,104.15 L590.09,104.84 L590.58,105.53 L591.08,106.22 L591.58,106.90 L592.08,107.58 L592.58,108.25 L593.08,108.92 L593.57,109.58 L594.07,110.24 L594.57,110.89 L595.07,111.54 L595.57,112.19 L596.06,112.83 L596.56,113.46 L597.06,114.09 L597.56,114.72 L598.06,115.34 L598.56,115.96 L599.05,116.58 L599.55,117.18 L600.05,117.79 L600.55,118.39 L601.05,118.99 L601.55,119.58 L602.04,120.17 L602.54,120.75 L603.04,121.33 L603.54,121.91 L604.04,122.48 L604.54,123.05 L605.03,123.61 L605.53,124.17 L606.03,124.73 L606.53,125.28 L607.03,125.83 L607.53,126.37 L608.02,126.91 L608.52,127.45 L609.02,127.98 L609.52,128.51 L610.02,129.03 L610.52,129.56 L611.01,130.07 L611.51,130.59 L612.01,131.10 L612.51,131.60 L613.01,132.11 L613.51,132.61 L614.00,133.10 L614.50,133.59 L615.00,134.08 L615.50,134.57 L616.00,135.05 L616.50,135.53 L617.00,136.00 L617.49,136.47 L617.99,136.94 L618.49,137.41 L618.99,137.87 L619.49,138.32 L619.99,138.78 L620.48,139.23 L620.98,139.68 L621.48,140.12 L621.98,140.56 L622.48,141.00 L622.98,141.44 L623.47,141.87 L623.97,142.30 L624.47,142.72 L624.97,143.15 L625.47,143.57 L625.96,143.98 L626.46,144.39 L626.96,144.80 L627.46,145.21 L627.96,145.62 L628.46,146.02 L628.95,146.42 L629.45,146.81 L629.95,147.20 L630.45,147.59 L630.95,147.98 L631.45,148.36 L631.94,148.74 L632.44,149.12 L632.94,149.50 L633.44,149.87 L633.94,150.24 L634.44,150.61 L634.93,150.97 L635.43,151.33 L635.93,151.69 L636.43,152.05 L636.93,152.40 L637.43,152.75 L637.92,153.10 L638.42,153.44 L638.92,153.79 L639.42,154.13 L639.92,154.46 L640.42,154.80 L640.91,155.13 L641.41,155.46 L641.91,155.79 L642.41,156.11 L642.91,156.44 L643.41,156.76 L643.90,157.07 L644.40,157.39 L644.90,157.70 L645.40,158.01 L645.90,158.32 L646.40,158.63 L646.89,158.93 L647.39,159.23 L647.89,159.53 L648.39,159.82 L648.89,160.12 L649.39,160.41 L649.88,160.70 L650.38,160.99 L650.88,161.27 L651.38,161.55 L651.88,161.83 L652.38,162.11 L652.88,162.39 L653.37,162.66 L653.87,162.93 L654.37,163.20 L654.87,163.47 L655.37,163.73 L655.87,164.00 L656.36,164.26 L656.86,164.52 L657.36,164.77 L657.86,165.03 L658.36,165.28 L658.86,165.53 L659.35,165.78 L659.85,166.03 L660.35,166.27 L660.85,166.51 L661.35,166.75 L661.85,166.99 L662.34,167.23 L662.84,167.46 L663.34,167.70 L663.84,167.93 L664.34,168.16 L664.83,168.38 L665.33,168.61 L665.83,168.83 L666.33,169.05 L666.83,169.27 L667.33,169.49 L667.82,169.71 L668.32,169.92 L668.82,170.14 L669.32,170.35 L669.82,170.56 L670.32,170.76 L670.81,170.97 L671.31,171.17 L671.81,171.38 L672.31,171.58 L672.81,171.78 L673.31,171.97 L673.80,172.17 L674.30,172.36 L674.80,172.56 L675.30,172.75 L675.80,172.94 L676.30,173.12 L676.79,173.31 L677.29,173.49 L677.79,173.68 L678.29,173.86 L678.79,174.04 L679.29,174.22 L679.78,174.39 L680.28,174.57 L680.78,174.74 L681.28,174.91 L681.78,175.09 L682.28,175.26 L682.77,175.42 L683.27,175.59 L683.77,175.76 L684.27,175.92 L684.77,176.08 L685.27,176.24 L685.76,176.40 L686.26,176.56 L686.76,176.72 L687.26,176.87 L687.76,177.03 L688.26,177.18 L688.75,177.33 L689.25,177.48 L689.75,177.63 L690.25,177.78 L690.75,177.93 L691.25,178.07 L691.74,178.22 L692.24,178.36 L692.74,178.50 L693.24,178.64 L693.74,178.78 L694.24,178.92 L694.73,179.06 L695.23,179.20 L695.73,179.33 L696.23,179.47 L696.73,179.60 L697.23,179.73 L697.72,179.86 L698.22,179.99 L698.72,180.12 L699.22,180.25 L699.72,180.37 L700.22,180.50 L700.71,180.62 L701.21,180.75 L701.71,180.87 L702.21,180.99 L702.71,181.11 L703.21,181.23 L703.70,181.35 L704.20,181.47 L704.70,181.59 L705.20,181.70 L705.70,181.82 L706.20,181.93 L706.69,182.05 L707.19,182.16 L707.69,182.27 L708.19,182.38 L708.69,182.49 L709.19,182.60 L709.68,182.71 L710.18,182.82 L710.68,182.93 L711.18,183.03 L711.68,183.14 L712.18,183.24 L712.67,183.35 L713.17,183.45 L713.67,183.55 L714.17,183.65 L714.67,183.76 L715.17,183.86 L715.66,183.96 L716.16,184.06 L716.66,184.16 L717.16,184.25 L717.66,184.35 L718.16,184.45 L718.65,184.55 L719.15,184.64 L719.65,184.74 L720.15,184.83 L720.65,184.93 L721.15,185.02 L721.64,185.11 L722.14,185.21 L722.64,185.30 L723.14,185.39 L723.64,185.48 L724.14,185.57 L724.63,185.67 L725.13,185.76 L725.63,185.85 L726.13,185.94 L726.63,186.02 L727.13,186.11 L727.62,186.20 L728.12,186.29 L728.62,186.38 L729.12,186.47 L729.62,186.55 L730.12,186.64 L730.62,186.73 L731.11,186.81 L731.61,186.90 L732.11,186.98 L732.61,187.07 L733.11,187.16 L733.61,187.24 L734.10,187.33 L734.60,187.41 L735.10,187.50 L735.60,187.58 L736.10,187.67 L736.59,187.75 L737.09,187.83 L737.59,187.92 L738.09,188.00 L738.59,188.09 L739.09,188.17 L739.58,188.25 L740.08,188.34 L740.58,188.42 L741.08,188.51 L741.58,188.59 L742.08,188.67 L742.57,188.76 L743.07,188.84 L743.57,188.92 L744.07,189.01 L744.57,189.09 L745.07,189.18 L745.56,189.26 L746.06,189.34 L746.56,189.43 L747.06,189.51 L747.56,189.60 L748.06,189.68 L748.55,189.77 L749.05,189.85 L749.55,189.94 L750.05,190.02" stroke="#f00" stroke-width="1.15"/>
<path d="M690,27.5H732.5" stroke="#000" stroke-width="1.2"/>
<path d="M690,42H732.5" stroke="#00f" stroke-width="2" stroke-dasharray="7 3.8"/>
<path d="M690,56.5H732.5" stroke="#f00" stroke-width="1.15"/>
</g>
<g stroke="#000" stroke-width="1.5" fill="none"><rect x="540.75" y="12.3" width="209.3" height="189.6"/><path d="M582.61,201.9v-7.6 M582.61,12.3v7.6 M624.47,201.9v-7.6 M624.47,12.3v7.6 M666.33,201.9v-7.6 M666.33,12.3v7.6 M708.19,201.9v-7.6 M708.19,12.3v7.6 M540.75,50.22h7.6 M750.05,50.22h-7.6 M540.75,88.14h7.6 M750.05,88.14h-7.6 M540.75,126.06h7.6 M750.05,126.06h-7.6 M540.75,163.98h7.6 M750.05,163.98h-7.6 " stroke-width="1.3"/></g>
<text x="681.7" y="32.35" text-anchor="end">Y=0</text>
<text x="681.7" y="46.85" text-anchor="end">BK - Y=10</text>
<text x="681.7" y="61.35" text-anchor="end">MFA - Y=10</text>
<text x="532" y="17.1" text-anchor="end">1</text>
<text x="532" y="55.02" text-anchor="end">0.8</text>
<text x="532" y="92.94" text-anchor="end">0.6</text>
<text x="532" y="130.86" text-anchor="end">0.4</text>
<text x="532" y="168.78" text-anchor="end">0.2</text>
<text x="532" y="206.7" text-anchor="end">0</text>
<text x="542.75" y="221.45" text-anchor="middle">0</text>
<text x="584.61" y="221.45" text-anchor="middle">1</text>
<text x="626.47" y="221.45" text-anchor="middle">2</text>
<text x="668.33" y="221.45" text-anchor="middle">3</text>
<text x="710.19" y="221.45" text-anchor="middle">4</text>
<text x="752.05" y="221.45" text-anchor="middle">5</text>
<text x="645.6" y="242" text-anchor="middle">r Q<tspan font-size="11.6" dy="4">s</tspan></text>
<text transform="translate(494.5,108) rotate(-90)" text-anchor="middle">S(r)</text>
<text transform="translate(555.6,160) scale(1.22,1)">α</text>
<text x="564.7" y="160">=0.25</text>
<path d="M556.2,150.4H564.2" stroke="#000" stroke-width="0.75" fill="none"/>
<text x="578.3" y="174.6" text-anchor="middle">(fixed)</text>
</svg></body></html>
